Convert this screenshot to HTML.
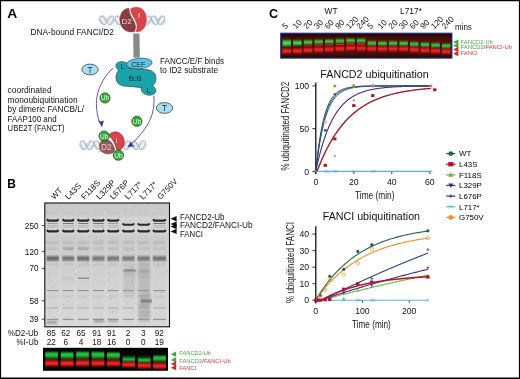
<!DOCTYPE html>
<html><head><meta charset="utf-8"><title>Figure</title>
<style>
html,body{margin:0;padding:0;background:#fff;}
body{width:520px;height:379px;overflow:hidden;font-family:"Liberation Sans",sans-serif;}
svg{display:block;will-change:transform;opacity:0.999;font-family:"Liberation Sans",sans-serif;}
text{font-family:"Liberation Sans",sans-serif;}
</style></head><body>
<svg width="520" height="379" viewBox="0 0 520 379">
<defs>
<filter id="b1" x="-20%" y="-100%" width="140%" height="300%"><feGaussianBlur stdDeviation="0.55 0.55"/></filter>
<filter id="b2" x="-20%" y="-100%" width="140%" height="300%"><feGaussianBlur stdDeviation="0.9 0.8"/></filter>
<filter id="b3" x="-20%" y="-100%" width="140%" height="300%"><feGaussianBlur stdDeviation="1.2 1.4"/></filter>
<filter id="bg" x="-20%" y="-100%" width="140%" height="300%"><feGaussianBlur stdDeviation="0.65 0.85"/></filter>
<filter id="bf" x="-20%" y="-100%" width="140%" height="300%"><feGaussianBlur stdDeviation="0.7 0.8"/></filter>
<clipPath id="cgB"><rect x="45" y="203" width="124.5" height="124"/></clipPath>
<clipPath id="cgF"><rect x="43" y="348" width="125" height="23"/></clipPath>
<clipPath id="cgC"><rect x="281" y="33.5" width="170.6" height="24.4"/></clipPath>
</defs>
<rect x="0" y="0" width="520" height="379" fill="#fff"/>

<text x="0" y="0" font-size="12.6" font-weight="bold" fill="#000" transform="translate(7.2 18) scale(1.1 1)">A</text>
<text x="7.3" y="187.6" font-size="12" font-weight="bold" fill="#000">B</text>
<text x="269" y="18" font-size="12.6" font-weight="bold" fill="#000">C</text>
<text x="30.5" y="35" font-size="8.6" fill="#111" text-anchor="start" textLength="83.5" lengthAdjust="spacingAndGlyphs">DNA-bound FANCI/D2</text>
<text x="160" y="63.5" font-size="8.6" fill="#111" text-anchor="start" textLength="64" lengthAdjust="spacingAndGlyphs">FANCC/E/F binds</text>
<text x="160" y="73" font-size="8.6" fill="#111" text-anchor="start" textLength="58" lengthAdjust="spacingAndGlyphs">to ID2 substrate</text>
<text x="7.6" y="92.8" font-size="8.6" fill="#111" text-anchor="start" textLength="44" lengthAdjust="spacingAndGlyphs">coordinated</text>
<text x="7.6" y="102.5" font-size="8.6" fill="#111" text-anchor="start" textLength="70" lengthAdjust="spacingAndGlyphs">monoubiquitination</text>
<text x="7.6" y="112.2" font-size="8.6" fill="#111" text-anchor="start" textLength="76.5" lengthAdjust="spacingAndGlyphs">by dimeric FANCB/L/</text>
<text x="7.6" y="121.7" font-size="8.6" fill="#111" text-anchor="start" textLength="49" lengthAdjust="spacingAndGlyphs">FAAP100 and</text>
<text x="7.6" y="131.3" font-size="8.6" fill="#111" text-anchor="start" textLength="57" lengthAdjust="spacingAndGlyphs">UBE2T (FANCT)</text>
<polyline points="99.08,20.30 99.41,20.91 99.75,21.50 100.09,22.08 100.42,22.62 100.76,23.11 101.10,23.55 101.44,23.93 101.78,24.24 102.11,24.47 102.45,24.63 102.79,24.70 103.12,24.68 103.46,24.58 103.80,24.40 104.14,24.14 104.48,23.81 104.81,23.41 105.15,22.95 105.49,22.44 105.83,21.89 106.16,21.31 106.50,20.71 106.84,20.10 107.18,19.49 107.51,18.90 107.85,18.34 108.19,17.81 108.53,17.34 108.86,16.91 109.20,16.56 109.54,16.27 109.88,16.07 110.21,15.94 110.55,15.90 110.89,15.94 111.23,16.07 111.56,16.27 111.90,16.56 112.24,16.91 112.58,17.34 112.91,17.81 113.25,18.34 113.59,18.90 113.93,19.49 114.26,20.10 114.60,20.71 114.94,21.31 115.28,21.89 115.61,22.44 115.95,22.95 116.29,23.41 116.62,23.81 116.96,24.14 117.30,24.40 117.64,24.58 117.98,24.68 118.31,24.70 118.65,24.63 118.99,24.47 119.33,24.24 119.66,23.93 120.00,23.55 120.34,23.11 120.68,22.62 121.01,22.08 121.35,21.50 121.69,20.91 122.03,20.30" fill="none" stroke="#9fb5da" stroke-width="0.9"/>
<polyline points="99.08,20.30 99.41,19.69 99.75,19.10 100.09,18.52 100.42,17.98 100.76,17.49 101.10,17.05 101.44,16.67 101.78,16.36 102.11,16.13 102.45,15.97 102.79,15.90 103.12,15.92 103.46,16.02 103.80,16.20 104.14,16.46 104.48,16.79 104.81,17.19 105.15,17.65 105.49,18.16 105.83,18.71 106.16,19.29 106.50,19.89 106.84,20.50 107.18,21.11 107.51,21.70 107.85,22.26 108.19,22.79 108.53,23.26 108.86,23.69 109.20,24.04 109.54,24.33 109.88,24.53 110.21,24.66 110.55,24.70 110.89,24.66 111.23,24.53 111.56,24.33 111.90,24.04 112.24,23.69 112.58,23.26 112.91,22.79 113.25,22.26 113.59,21.70 113.93,21.11 114.26,20.50 114.60,19.89 114.94,19.29 115.28,18.71 115.61,18.16 115.95,17.65 116.29,17.19 116.62,16.79 116.96,16.46 117.30,16.20 117.64,16.02 117.98,15.92 118.31,15.90 118.65,15.97 118.99,16.13 119.33,16.36 119.66,16.67 120.00,17.05 120.34,17.49 120.68,17.98 121.01,18.52 121.35,19.10 121.69,19.69 122.03,20.30" fill="none" stroke="#9fb5da" stroke-width="0.9"/>
<ellipse cx="102.90" cy="20.3" rx="2.2" ry="4.7" fill="#f4f1d6" stroke="#9fb5da" stroke-width="0.9" transform="rotate(-28 102.90 20.3)"/>
<ellipse cx="110.60" cy="20.3" rx="2.2" ry="4.7" fill="#f4f1d6" stroke="#9fb5da" stroke-width="0.9" transform="rotate(28 110.60 20.3)"/>
<ellipse cx="118.20" cy="20.3" rx="2.2" ry="4.7" fill="#f4f1d6" stroke="#9fb5da" stroke-width="0.9" transform="rotate(-28 118.20 20.3)"/>
<polyline points="144.10,20.30 144.43,20.96 144.77,21.60 145.10,22.21 145.43,22.78 145.77,23.29 146.10,23.74 146.43,24.11 146.77,24.40 147.10,24.59 147.43,24.69 147.77,24.69 148.10,24.59 148.43,24.40 148.77,24.11 149.10,23.74 149.43,23.29 149.77,22.78 150.10,22.21 150.43,21.60 150.77,20.96 151.10,20.30 151.43,19.64 151.77,19.00 152.10,18.39 152.43,17.82 152.77,17.31 153.10,16.86 153.43,16.49 153.77,16.20 154.10,16.01 154.43,15.91 154.77,15.91 155.10,16.01 155.43,16.20 155.77,16.49 156.10,16.86 156.43,17.31 156.77,17.82 157.10,18.39 157.43,19.00 157.77,19.64 158.10,20.30 158.43,20.96 158.77,21.60 159.10,22.21 159.43,22.78 159.77,23.29 160.10,23.74 160.43,24.11 160.77,24.40 161.10,24.59 161.43,24.69 161.77,24.69 162.10,24.59 162.43,24.40 162.77,24.11 163.10,23.74 163.43,23.29 163.77,22.78 164.10,22.21 164.43,21.60 164.77,20.96 165.10,20.30" fill="none" stroke="#9fb5da" stroke-width="0.9"/>
<polyline points="144.10,20.30 144.43,19.64 144.77,19.00 145.10,18.39 145.43,17.82 145.77,17.31 146.10,16.86 146.43,16.49 146.77,16.20 147.10,16.01 147.43,15.91 147.77,15.91 148.10,16.01 148.43,16.20 148.77,16.49 149.10,16.86 149.43,17.31 149.77,17.82 150.10,18.39 150.43,19.00 150.77,19.64 151.10,20.30 151.43,20.96 151.77,21.60 152.10,22.21 152.43,22.78 152.77,23.29 153.10,23.74 153.43,24.11 153.77,24.40 154.10,24.59 154.43,24.69 154.77,24.69 155.10,24.59 155.43,24.40 155.77,24.11 156.10,23.74 156.43,23.29 156.77,22.78 157.10,22.21 157.43,21.60 157.77,20.96 158.10,20.30 158.43,19.64 158.77,19.00 159.10,18.39 159.43,17.82 159.77,17.31 160.10,16.86 160.43,16.49 160.77,16.20 161.10,16.01 161.43,15.91 161.77,15.91 162.10,16.01 162.43,16.20 162.77,16.49 163.10,16.86 163.43,17.31 163.77,17.82 164.10,18.39 164.43,19.00 164.77,19.64 165.10,20.30" fill="none" stroke="#9fb5da" stroke-width="0.9"/>
<ellipse cx="147.60" cy="20.3" rx="2.2" ry="4.7" fill="#f4f1d6" stroke="#9fb5da" stroke-width="0.9" transform="rotate(28 147.60 20.3)"/>
<ellipse cx="154.60" cy="20.3" rx="2.2" ry="4.7" fill="#f4f1d6" stroke="#9fb5da" stroke-width="0.9" transform="rotate(-28 154.60 20.3)"/>
<ellipse cx="161.60" cy="20.3" rx="2.2" ry="4.7" fill="#f4f1d6" stroke="#9fb5da" stroke-width="0.9" transform="rotate(28 161.60 20.3)"/>
<path d="M129,8.2 C123.5,8.2 119.9,13.5 119.9,20 C119.9,27 125,32 131,32 C132.5,32 133.8,31.9 134.7,31.6 C135.8,29.5 136,27 135.3,24.5 C134.3,21 131.5,18 130.2,14.5 C129.5,12.5 129.2,10.3 129,8.2 Z" fill="#8b3c40" stroke="#6b2b2f" stroke-width="0.4"/>
<path d="M130.4,8.8 C132,7.6 134.6,7.1 137.3,7.2 C143,7.5 146.6,13 146.6,19.9 C146.6,27 142,31.7 137.3,31.8 C136.7,31.8 136.1,31.9 135.7,32 C136.8,29.5 137.3,26.5 136.6,23.5 C135.6,19.5 132.5,16.5 131.3,13 C130.8,11.5 130.5,10.2 130.4,8.8 Z" fill="#d9444a" stroke="#fff" stroke-width="1.7"/>
<path d="M130.4,8.8 C132,7.6 134.6,7.1 137.3,7.2 C143,7.5 146.6,13 146.6,19.9 C146.6,27 142,31.7 137.3,31.8 C136.7,31.8 136.1,31.9 135.7,32 C136.8,29.5 137.3,26.5 136.6,23.5 C135.6,19.5 132.5,16.5 131.3,13 C130.8,11.5 130.5,10.2 130.4,8.8 Z" fill="#d9444a" stroke="#b8343a" stroke-width="0.3"/>
<text x="126.6" y="24.1" font-size="8" fill="#ecd9d9" text-anchor="middle" >D2</text>
<text x="139" y="18.4" font-size="7.6" fill="#f6dada" text-anchor="middle" >I</text>
<path d="M133.3,33.6 L139.2,33.6 L139.8,57.6 L133.6,57.6 Z" fill="#8f8f8f"/>
<line x1="133.3" x2="139.8" y1="34.2" y2="34.2" stroke="#7a7a7a" stroke-width="0.35"/>
<line x1="133.3" x2="139.8" y1="35.2" y2="35.2" stroke="#7a7a7a" stroke-width="0.35"/>
<line x1="133.3" x2="139.8" y1="36.2" y2="36.2" stroke="#7a7a7a" stroke-width="0.35"/>
<line x1="133.3" x2="139.8" y1="37.2" y2="37.2" stroke="#7a7a7a" stroke-width="0.35"/>
<line x1="133.3" x2="139.8" y1="38.2" y2="38.2" stroke="#7a7a7a" stroke-width="0.35"/>
<line x1="133.3" x2="139.8" y1="39.2" y2="39.2" stroke="#7a7a7a" stroke-width="0.35"/>
<line x1="133.3" x2="139.8" y1="40.2" y2="40.2" stroke="#7a7a7a" stroke-width="0.35"/>
<line x1="133.3" x2="139.8" y1="41.2" y2="41.2" stroke="#7a7a7a" stroke-width="0.35"/>
<line x1="133.3" x2="139.8" y1="42.2" y2="42.2" stroke="#7a7a7a" stroke-width="0.35"/>
<line x1="133.3" x2="139.8" y1="43.2" y2="43.2" stroke="#7a7a7a" stroke-width="0.35"/>
<line x1="133.3" x2="139.8" y1="44.2" y2="44.2" stroke="#7a7a7a" stroke-width="0.35"/>
<line x1="133.3" x2="139.8" y1="45.2" y2="45.2" stroke="#7a7a7a" stroke-width="0.35"/>
<line x1="133.3" x2="139.8" y1="46.2" y2="46.2" stroke="#7a7a7a" stroke-width="0.35"/>
<line x1="133.3" x2="139.8" y1="47.2" y2="47.2" stroke="#7a7a7a" stroke-width="0.35"/>
<line x1="133.3" x2="139.8" y1="48.2" y2="48.2" stroke="#7a7a7a" stroke-width="0.35"/>
<line x1="133.3" x2="139.8" y1="49.2" y2="49.2" stroke="#7a7a7a" stroke-width="0.35"/>
<line x1="133.3" x2="139.8" y1="50.2" y2="50.2" stroke="#7a7a7a" stroke-width="0.35"/>
<line x1="133.3" x2="139.8" y1="51.2" y2="51.2" stroke="#7a7a7a" stroke-width="0.35"/>
<line x1="133.3" x2="139.8" y1="52.2" y2="52.2" stroke="#7a7a7a" stroke-width="0.35"/>
<line x1="133.3" x2="139.8" y1="53.2" y2="53.2" stroke="#7a7a7a" stroke-width="0.35"/>
<line x1="133.3" x2="139.8" y1="54.2" y2="54.2" stroke="#7a7a7a" stroke-width="0.35"/>
<line x1="133.3" x2="139.8" y1="55.2" y2="55.2" stroke="#7a7a7a" stroke-width="0.35"/>
<line x1="133.3" x2="139.8" y1="56.2" y2="56.2" stroke="#7a7a7a" stroke-width="0.35"/>
<line x1="133.3" x2="139.8" y1="57.2" y2="57.2" stroke="#7a7a7a" stroke-width="0.35"/>
<ellipse cx="148.5" cy="89.9" rx="7.5" ry="5.2" fill="#18a4aa" stroke="#3a3030" stroke-width="0.6" transform="rotate(12 148.5 89.9)"/>
<ellipse cx="122.8" cy="66.7" rx="7.1" ry="4.9" fill="#18a4aa" stroke="#3a3030" stroke-width="0.6" transform="rotate(15 122.8 66.7)"/>
<path d="M116,78.2 C115.8,71.5 120.5,68.4 128,68.5 L146,69 C152.4,69.3 156.2,72.6 156,78.4 C155.8,84.2 151,87.5 144,87.3 L126,86.7 C119.6,86.4 116.1,83.6 116,78.2 Z" fill="#18a4aa" stroke="#3a3030" stroke-width="0.6" transform="rotate(3 136 78)"/>
<ellipse cx="148.5" cy="89.9" rx="7.1" ry="4.8" fill="#18a4aa" transform="rotate(12 148.5 89.9)"/>
<ellipse cx="122.8" cy="66.7" rx="6.7" ry="4.5" fill="#18a4aa" transform="rotate(15 122.8 66.7)"/>
<ellipse cx="139.3" cy="63.5" rx="12.9" ry="5.3" fill="#5cc5e3" stroke="#3a3030" stroke-width="0.6" transform="rotate(-5 139.3 63.5)"/>
<text x="131.2" y="66.8" font-size="8" fill="#0d2636" text-anchor="start" textLength="14.3" lengthAdjust="spacingAndGlyphs">CEF</text>
<text x="122.6" y="69.2" font-size="7.6" fill="#0d2636" text-anchor="middle" >L</text>
<text x="135.2" y="80.6" font-size="8" fill="#0d2636" text-anchor="middle" >B:B</text>
<text x="148.5" y="92.6" font-size="7.6" fill="#0d2636" text-anchor="middle" >L</text>
<ellipse cx="90" cy="69.5" rx="8.2" ry="5.4" fill="#a9dcee" stroke="#2a3a44" stroke-width="0.75"/>
<text x="90" y="72.5" font-size="8.4" fill="#15323f" text-anchor="middle" >T</text>
<ellipse cx="164.5" cy="108" rx="8.2" ry="5.4" fill="#a9dcee" stroke="#2a3a44" stroke-width="0.75"/>
<text x="164.5" y="111" font-size="8.4" fill="#15323f" text-anchor="middle" >T</text>
<circle cx="105" cy="98" r="5.1" fill="#35a637" stroke="#174d19" stroke-width="0.7"/>
<text x="105" y="100.4" font-size="6.6" fill="#eaffea" text-anchor="middle" >Ub</text>
<circle cx="136.9" cy="121.3" r="5.1" fill="#35a637" stroke="#174d19" stroke-width="0.7"/>
<text x="136.9" y="123.7" font-size="6.6" fill="#eaffea" text-anchor="middle" >Ub</text>
<polyline points="79.60,145.20 79.94,145.85 80.28,146.48 80.61,147.08 80.95,147.64 81.29,148.15 81.62,148.60 81.96,148.97 82.30,149.27 82.64,149.47 82.98,149.58 83.31,149.59 83.65,149.52 83.99,149.34 84.33,149.08 84.66,148.73 85.00,148.31 85.34,147.82 85.67,147.27 86.01,146.68 86.35,146.06 86.69,145.42 87.03,144.77 87.36,144.13 87.70,143.52 88.04,142.94 88.38,142.41 88.71,141.94 89.05,141.54 89.39,141.22 89.72,140.99 90.06,140.85 90.40,140.80 90.74,140.85 91.08,140.99 91.41,141.22 91.75,141.54 92.09,141.94 92.42,142.41 92.76,142.94 93.10,143.52 93.44,144.13 93.77,144.77 94.11,145.42 94.45,146.06 94.79,146.68 95.12,147.27 95.46,147.82 95.80,148.31 96.14,148.73 96.47,149.08 96.81,149.34 97.15,149.52 97.49,149.59 97.82,149.58 98.16,149.47 98.50,149.27 98.84,148.97 99.17,148.60 99.51,148.15 99.85,147.64 100.19,147.08 100.52,146.48 100.86,145.85 101.20,145.20" fill="none" stroke="#9fb5da" stroke-width="0.9"/>
<polyline points="79.60,145.20 79.94,144.55 80.28,143.92 80.61,143.32 80.95,142.76 81.29,142.25 81.62,141.80 81.96,141.43 82.30,141.13 82.64,140.93 82.98,140.82 83.31,140.81 83.65,140.88 83.99,141.06 84.33,141.32 84.66,141.67 85.00,142.09 85.34,142.58 85.67,143.13 86.01,143.72 86.35,144.34 86.69,144.98 87.03,145.63 87.36,146.27 87.70,146.88 88.04,147.46 88.38,147.99 88.71,148.46 89.05,148.86 89.39,149.18 89.72,149.41 90.06,149.55 90.40,149.60 90.74,149.55 91.08,149.41 91.41,149.18 91.75,148.86 92.09,148.46 92.42,147.99 92.76,147.46 93.10,146.88 93.44,146.27 93.77,145.63 94.11,144.98 94.45,144.34 94.79,143.72 95.12,143.13 95.46,142.58 95.80,142.09 96.14,141.67 96.47,141.32 96.81,141.06 97.15,140.88 97.49,140.81 97.82,140.82 98.16,140.93 98.50,141.13 98.84,141.43 99.17,141.80 99.51,142.25 99.85,142.76 100.19,143.32 100.52,143.92 100.86,144.55 101.20,145.20" fill="none" stroke="#9fb5da" stroke-width="0.9"/>
<ellipse cx="83.20" cy="145.2" rx="2.2" ry="4.7" fill="#f4f1d6" stroke="#9fb5da" stroke-width="0.9" transform="rotate(-28 83.20 145.2)"/>
<ellipse cx="90.60" cy="145.2" rx="2.2" ry="4.7" fill="#f4f1d6" stroke="#9fb5da" stroke-width="0.9" transform="rotate(28 90.60 145.2)"/>
<ellipse cx="97.60" cy="145.2" rx="2.2" ry="4.7" fill="#f4f1d6" stroke="#9fb5da" stroke-width="0.9" transform="rotate(-28 97.60 145.2)"/>
<polyline points="123.40,145.20 123.74,145.81 124.07,146.40 124.41,146.98 124.74,147.52 125.08,148.01 125.41,148.45 125.75,148.83 126.08,149.14 126.42,149.37 126.75,149.53 127.09,149.60 127.42,149.58 127.76,149.48 128.09,149.30 128.43,149.04 128.76,148.71 129.10,148.31 129.44,147.85 129.77,147.34 130.11,146.79 130.44,146.21 130.78,145.61 131.11,145.00 131.45,144.39 131.78,143.80 132.12,143.24 132.45,142.71 132.79,142.24 133.12,141.81 133.46,141.46 133.79,141.17 134.13,140.97 134.46,140.84 134.80,140.80 135.14,140.84 135.47,140.97 135.81,141.17 136.14,141.46 136.48,141.81 136.81,142.24 137.15,142.71 137.48,143.24 137.82,143.80 138.15,144.39 138.49,145.00 138.82,145.61 139.16,146.21 139.49,146.79 139.83,147.34 140.16,147.85 140.50,148.31 140.84,148.71 141.17,149.04 141.51,149.30 141.84,149.48 142.18,149.58 142.51,149.60 142.85,149.53 143.18,149.37 143.52,149.14 143.85,148.83 144.19,148.45 144.52,148.01 144.86,147.52 145.19,146.98 145.53,146.40 145.86,145.81 146.20,145.20" fill="none" stroke="#9fb5da" stroke-width="0.9"/>
<polyline points="123.40,145.20 123.74,144.59 124.07,144.00 124.41,143.42 124.74,142.88 125.08,142.39 125.41,141.95 125.75,141.57 126.08,141.26 126.42,141.03 126.75,140.87 127.09,140.80 127.42,140.82 127.76,140.92 128.09,141.10 128.43,141.36 128.76,141.69 129.10,142.09 129.44,142.55 129.77,143.06 130.11,143.61 130.44,144.19 130.78,144.79 131.11,145.40 131.45,146.01 131.78,146.60 132.12,147.16 132.45,147.69 132.79,148.16 133.12,148.59 133.46,148.94 133.79,149.23 134.13,149.43 134.46,149.56 134.80,149.60 135.14,149.56 135.47,149.43 135.81,149.23 136.14,148.94 136.48,148.59 136.81,148.16 137.15,147.69 137.48,147.16 137.82,146.60 138.15,146.01 138.49,145.40 138.82,144.79 139.16,144.19 139.49,143.61 139.83,143.06 140.16,142.55 140.50,142.09 140.84,141.69 141.17,141.36 141.51,141.10 141.84,140.92 142.18,140.82 142.51,140.80 142.85,140.87 143.18,141.03 143.52,141.26 143.85,141.57 144.19,141.95 144.52,142.39 144.86,142.88 145.19,143.42 145.53,144.00 145.86,144.59 146.20,145.20" fill="none" stroke="#9fb5da" stroke-width="0.9"/>
<ellipse cx="127.20" cy="145.2" rx="2.2" ry="4.7" fill="#f4f1d6" stroke="#9fb5da" stroke-width="0.9" transform="rotate(28 127.20 145.2)"/>
<ellipse cx="135.00" cy="145.2" rx="2.2" ry="4.7" fill="#f4f1d6" stroke="#9fb5da" stroke-width="0.9" transform="rotate(-28 135.00 145.2)"/>
<ellipse cx="142.40" cy="145.2" rx="2.2" ry="4.7" fill="#f4f1d6" stroke="#9fb5da" stroke-width="0.9" transform="rotate(28 142.40 145.2)"/>
<path d="M113,68.2 C106,74 98.5,86 96.9,97.3 C95.7,106 96.8,115 99.8,122.5" fill="none" stroke="#3a34a0" stroke-width="0.8"/>
<path d="M102,127.2 L97.8,120 L100.7,121.6 L103.9,120.6 Z" fill="#3a34a0"/>
<path d="M153.9,95.8 C154.6,104 153.2,113 150.2,119.5 C147,126.5 141,135 131.5,144.2" fill="none" stroke="#3a34a0" stroke-width="0.8"/>
<path d="M127.4,147 L131,141.2 L131.9,144.2 L135,146.2 Z" fill="#3a34a0"/>
<path d="M98.4,151.8 L105,149.4" stroke="#d9444a" stroke-width="0.6" fill="none"/>
<path d="M108.9,135.4 C110,132 116,130.6 120,133.4 C124.6,136.6 125.6,143.4 122.4,147.8 C121,149.6 119.6,150.4 118.4,150.6 L116.7,149.6 C115.5,144 112.8,139 108.9,135.4 Z" fill="#d9444a" stroke="#4a1a1d" stroke-width="0.55"/>
<path d="M99.5,146.5 C99.3,142.3 102.6,139.5 106.4,139.8 C110.6,140.2 113.8,144.6 114.6,150.2 C113.8,153.2 109,154.8 104.6,153.2 C101.2,152 99.7,149.6 99.5,146.5 Z" fill="#8f3f43" fill-opacity="0.88" stroke="#4a1a1d" stroke-width="0.5"/>
<text x="106.4" y="150.4" font-size="8.4" fill="#e2c9c9" text-anchor="middle" >D2</text>
<text x="116.5" y="143.4" font-size="7.6" fill="#f6dada" text-anchor="middle" >I</text>
<circle cx="104.1" cy="136.1" r="5.2" fill="#35a637" stroke="#174d19" stroke-width="0.7"/>
<text x="104.1" y="138.5" font-size="6.6" fill="#eaffea" text-anchor="middle" >Ub</text>
<circle cx="118.4" cy="155.1" r="5.2" fill="#35a637" stroke="#174d19" stroke-width="0.7"/>
<text x="118.4" y="157.5" font-size="6.6" fill="#eaffea" text-anchor="middle" >Ub</text>
<rect x="44.8" y="203" width="124.7" height="123.80000000000001" fill="#cfcfcf"/>
<g clip-path="url(#cgB)">
<linearGradient id="ggB" x1="0" y1="0" x2="0" y2="1"><stop offset="0" stop-color="#c9c9c9"/><stop offset="0.4" stop-color="#d1d1d1"/><stop offset="1" stop-color="#dcdcdc"/></linearGradient>
<rect x="44.8" y="203" width="124.7" height="123.80000000000001" fill="url(#ggB)"/>
<rect x="47.0" y="211" width="11.399999999999999" height="115.80000000000001" fill="#b4b4b4" opacity="0.12" filter="url(#b3)"/>
<rect x="45.5" y="216.5" width="14.399999999999999" height="18" fill="#e2e2e2" opacity="0.5" filter="url(#b3)"/>
<path d="M46.8,219.40 L48.4,220.66 L57.0,220.66 L58.6,219.40" fill="none" stroke="#2a2a2a" stroke-width="2.1" stroke-linejoin="round" opacity="1" filter="url(#b1)"/>
<path d="M47.4,223.30 L49.0,223.64 L56.4,223.64 L58.0,223.30" fill="none" stroke="#555" stroke-width="1.0" stroke-linejoin="round" opacity="0.5" filter="url(#b1)"/>
<rect x="47.1" y="225.15" width="11.2" height="0.7" fill="#777" opacity="0.5" filter="url(#b1)"/>
<rect x="47.1" y="226.85" width="11.2" height="0.7" fill="#777" opacity="0.45" filter="url(#b1)"/>
<path d="M46.8,230.10 L48.4,231.36 L57.0,231.36 L58.6,230.10" fill="none" stroke="#282828" stroke-width="2.2" stroke-linejoin="round" opacity="1" filter="url(#b1)"/>
<rect x="47.0" y="242.05" width="11.4" height="1.3" fill="#8e8e8e" opacity="0.6" filter="url(#b2)"/>
<rect x="47.0" y="247.95" width="11.4" height="1.3" fill="#6c6c6c" opacity="0.3" filter="url(#bf)"/>
<rect x="46.7" y="256.50" width="12.0" height="3.8" fill="#8c8c8c" opacity="0.7" filter="url(#b2)"/>
<rect x="46.7" y="256.40" width="12.0" height="1.2" fill="#4a4a4a" opacity="0.8" filter="url(#bf)"/>
<rect x="46.7" y="257.90" width="12.0" height="1.4" fill="#333" opacity="0.9" filter="url(#bf)"/>
<rect x="46.7" y="259.75" width="12.0" height="1.1" fill="#484848" opacity="0.75" filter="url(#bf)"/>
<rect x="47.0" y="264.00" width="11.4" height="1.2" fill="#a0a0a0" opacity="0.5" filter="url(#b2)"/>
<rect x="47.0" y="290.05" width="11.4" height="1.1" fill="#7c7c7c" opacity="0.75" filter="url(#b1)"/>
<rect x="47.0" y="296.00" width="11.4" height="1.0" fill="#a8a8a8" opacity="0.5" filter="url(#b2)"/>
<rect x="47.0" y="307.50" width="11.4" height="1.0" fill="#909090" opacity="0.6" filter="url(#b1)"/>
<rect x="47.0" y="318.75" width="11.4" height="1.3" fill="#808080" opacity="0.7" filter="url(#b1)"/>
<rect x="62.7" y="211" width="11.099999999999994" height="115.80000000000001" fill="#b4b4b4" opacity="0.12" filter="url(#b3)"/>
<rect x="61.2" y="216.5" width="14.099999999999994" height="18" fill="#e2e2e2" opacity="0.5" filter="url(#b3)"/>
<path d="M62.5,219.40 L64.1,220.66 L72.4,220.66 L74.0,219.40" fill="none" stroke="#2a2a2a" stroke-width="2.1" stroke-linejoin="round" opacity="1" filter="url(#b1)"/>
<path d="M63.1,223.30 L64.7,223.64 L71.8,223.64 L73.4,223.30" fill="none" stroke="#555" stroke-width="1.0" stroke-linejoin="round" opacity="0.85" filter="url(#b1)"/>
<rect x="62.8" y="225.15" width="10.9" height="0.7" fill="#777" opacity="0.5" filter="url(#b1)"/>
<rect x="62.8" y="226.85" width="10.9" height="0.7" fill="#777" opacity="0.45" filter="url(#b1)"/>
<path d="M62.5,230.10 L64.1,231.36 L72.4,231.36 L74.0,230.10" fill="none" stroke="#282828" stroke-width="2.2" stroke-linejoin="round" opacity="1" filter="url(#b1)"/>
<rect x="62.7" y="242.05" width="11.1" height="1.3" fill="#8e8e8e" opacity="0.6" filter="url(#b2)"/>
<rect x="62.7" y="247.95" width="11.1" height="1.3" fill="#6c6c6c" opacity="0.9" filter="url(#bf)"/>
<rect x="62.4" y="256.50" width="11.7" height="3.8" fill="#8c8c8c" opacity="0.595" filter="url(#b2)"/>
<rect x="62.4" y="256.40" width="11.7" height="1.2" fill="#4a4a4a" opacity="0.68" filter="url(#bf)"/>
<rect x="62.4" y="257.90" width="11.7" height="1.4" fill="#333" opacity="0.765" filter="url(#bf)"/>
<rect x="62.4" y="259.75" width="11.7" height="1.1" fill="#484848" opacity="0.6375" filter="url(#bf)"/>
<rect x="62.7" y="264.00" width="11.1" height="1.2" fill="#a0a0a0" opacity="0.5" filter="url(#b2)"/>
<rect x="62.7" y="290.05" width="11.1" height="1.1" fill="#7c7c7c" opacity="0.75" filter="url(#b1)"/>
<rect x="62.7" y="296.00" width="11.1" height="1.0" fill="#a8a8a8" opacity="0.5" filter="url(#b2)"/>
<rect x="62.7" y="307.50" width="11.1" height="1.0" fill="#909090" opacity="0.6" filter="url(#b1)"/>
<rect x="62.7" y="318.75" width="11.1" height="1.3" fill="#808080" opacity="0.7" filter="url(#b1)"/>
<rect x="77.7" y="211" width="11.099999999999994" height="115.80000000000001" fill="#b4b4b4" opacity="0.12" filter="url(#b3)"/>
<rect x="76.2" y="216.5" width="14.099999999999994" height="18" fill="#e2e2e2" opacity="0.5" filter="url(#b3)"/>
<path d="M77.5,219.40 L79.1,220.66 L87.4,220.66 L89.0,219.40" fill="none" stroke="#2a2a2a" stroke-width="2.1" stroke-linejoin="round" opacity="1" filter="url(#b1)"/>
<path d="M78.1,223.30 L79.7,223.64 L86.8,223.64 L88.4,223.30" fill="none" stroke="#555" stroke-width="1.0" stroke-linejoin="round" opacity="0.85" filter="url(#b1)"/>
<rect x="77.8" y="225.15" width="10.9" height="0.7" fill="#777" opacity="0.5" filter="url(#b1)"/>
<rect x="77.8" y="226.85" width="10.9" height="0.7" fill="#777" opacity="0.45" filter="url(#b1)"/>
<path d="M77.5,230.10 L79.1,231.36 L87.4,231.36 L89.0,230.10" fill="none" stroke="#282828" stroke-width="2.2" stroke-linejoin="round" opacity="1" filter="url(#b1)"/>
<rect x="77.7" y="242.05" width="11.1" height="1.3" fill="#8e8e8e" opacity="0.6" filter="url(#b2)"/>
<rect x="77.7" y="247.95" width="11.1" height="1.3" fill="#6c6c6c" opacity="0.9" filter="url(#bf)"/>
<rect x="77.4" y="256.50" width="11.7" height="3.8" fill="#8c8c8c" opacity="0.6649999999999999" filter="url(#b2)"/>
<rect x="77.4" y="256.40" width="11.7" height="1.2" fill="#4a4a4a" opacity="0.76" filter="url(#bf)"/>
<rect x="77.4" y="257.90" width="11.7" height="1.4" fill="#333" opacity="0.855" filter="url(#bf)"/>
<rect x="77.4" y="259.75" width="11.7" height="1.1" fill="#484848" opacity="0.7124999999999999" filter="url(#bf)"/>
<rect x="77.7" y="264.00" width="11.1" height="1.2" fill="#a0a0a0" opacity="0.5" filter="url(#b2)"/>
<rect x="77.7" y="290.05" width="11.1" height="1.1" fill="#7c7c7c" opacity="0.75" filter="url(#b1)"/>
<rect x="77.7" y="296.00" width="11.1" height="1.0" fill="#a8a8a8" opacity="0.5" filter="url(#b2)"/>
<rect x="77.7" y="307.50" width="11.1" height="1.0" fill="#909090" opacity="0.6" filter="url(#b1)"/>
<rect x="77.7" y="318.75" width="11.1" height="1.3" fill="#808080" opacity="0.7" filter="url(#b1)"/>
<rect x="92.8" y="211" width="11.299999999999997" height="115.80000000000001" fill="#b4b4b4" opacity="0.12" filter="url(#b3)"/>
<rect x="91.3" y="216.5" width="14.299999999999997" height="18" fill="#e2e2e2" opacity="0.5" filter="url(#b3)"/>
<path d="M92.6,219.40 L94.2,220.66 L102.7,220.66 L104.3,219.40" fill="none" stroke="#2a2a2a" stroke-width="2.1" stroke-linejoin="round" opacity="1" filter="url(#b1)"/>
<path d="M93.2,223.30 L94.8,223.64 L102.1,223.64 L103.7,223.30" fill="none" stroke="#555" stroke-width="1.0" stroke-linejoin="round" opacity="0.85" filter="url(#b1)"/>
<rect x="92.9" y="225.15" width="11.1" height="0.7" fill="#777" opacity="0.5" filter="url(#b1)"/>
<rect x="92.9" y="226.85" width="11.1" height="0.7" fill="#777" opacity="0.45" filter="url(#b1)"/>
<path d="M92.6,230.10 L94.2,231.36 L102.7,231.36 L104.3,230.10" fill="none" stroke="#282828" stroke-width="2.2" stroke-linejoin="round" opacity="1" filter="url(#b1)"/>
<rect x="92.8" y="242.05" width="11.3" height="1.3" fill="#8e8e8e" opacity="0.6" filter="url(#b2)"/>
<rect x="92.8" y="247.95" width="11.3" height="1.3" fill="#6c6c6c" opacity="0.3" filter="url(#bf)"/>
<rect x="92.5" y="256.50" width="11.9" height="3.8" fill="#8c8c8c" opacity="0.5599999999999999" filter="url(#b2)"/>
<rect x="92.5" y="256.40" width="11.9" height="1.2" fill="#4a4a4a" opacity="0.6400000000000001" filter="url(#bf)"/>
<rect x="92.5" y="257.90" width="11.9" height="1.4" fill="#333" opacity="0.7200000000000001" filter="url(#bf)"/>
<rect x="92.5" y="259.75" width="11.9" height="1.1" fill="#484848" opacity="0.6000000000000001" filter="url(#bf)"/>
<rect x="92.8" y="264.00" width="11.3" height="1.2" fill="#a0a0a0" opacity="0.5" filter="url(#b2)"/>
<rect x="92.8" y="290.05" width="11.3" height="1.1" fill="#7c7c7c" opacity="0.75" filter="url(#b1)"/>
<rect x="92.8" y="296.00" width="11.3" height="1.0" fill="#a8a8a8" opacity="0.5" filter="url(#b2)"/>
<rect x="92.8" y="307.50" width="11.3" height="1.0" fill="#909090" opacity="0.6" filter="url(#b1)"/>
<rect x="92.8" y="318.75" width="11.3" height="1.3" fill="#808080" opacity="0.7" filter="url(#b1)"/>
<rect x="107.7" y="211" width="11.0" height="115.80000000000001" fill="#b4b4b4" opacity="0.12" filter="url(#b3)"/>
<rect x="106.2" y="216.5" width="14.0" height="18" fill="#e2e2e2" opacity="0.5" filter="url(#b3)"/>
<path d="M107.5,219.40 L109.1,220.66 L117.3,220.66 L118.9,219.40" fill="none" stroke="#2a2a2a" stroke-width="2.1" stroke-linejoin="round" opacity="1" filter="url(#b1)"/>
<path d="M108.1,223.30 L109.7,223.64 L116.7,223.64 L118.3,223.30" fill="none" stroke="#555" stroke-width="1.0" stroke-linejoin="round" opacity="0.5" filter="url(#b1)"/>
<rect x="107.8" y="225.15" width="10.8" height="0.7" fill="#777" opacity="0.5" filter="url(#b1)"/>
<rect x="107.8" y="226.85" width="10.8" height="0.7" fill="#777" opacity="0.45" filter="url(#b1)"/>
<path d="M107.5,230.10 L109.1,231.36 L117.3,231.36 L118.9,230.10" fill="none" stroke="#282828" stroke-width="2.2" stroke-linejoin="round" opacity="1" filter="url(#b1)"/>
<rect x="107.7" y="242.05" width="11.0" height="1.3" fill="#8e8e8e" opacity="0.6" filter="url(#b2)"/>
<rect x="107.7" y="247.95" width="11.0" height="1.3" fill="#6c6c6c" opacity="0.3" filter="url(#bf)"/>
<rect x="107.4" y="256.50" width="11.6" height="3.8" fill="#8c8c8c" opacity="0.5599999999999999" filter="url(#b2)"/>
<rect x="107.4" y="256.40" width="11.6" height="1.2" fill="#4a4a4a" opacity="0.6400000000000001" filter="url(#bf)"/>
<rect x="107.4" y="257.90" width="11.6" height="1.4" fill="#333" opacity="0.7200000000000001" filter="url(#bf)"/>
<rect x="107.4" y="259.75" width="11.6" height="1.1" fill="#484848" opacity="0.6000000000000001" filter="url(#bf)"/>
<rect x="107.7" y="264.00" width="11.0" height="1.2" fill="#a0a0a0" opacity="0.5" filter="url(#b2)"/>
<rect x="107.7" y="290.05" width="11.0" height="1.1" fill="#7c7c7c" opacity="0.75" filter="url(#b1)"/>
<rect x="107.7" y="296.00" width="11.0" height="1.0" fill="#a8a8a8" opacity="0.5" filter="url(#b2)"/>
<rect x="107.7" y="307.50" width="11.0" height="1.0" fill="#909090" opacity="0.6" filter="url(#b1)"/>
<rect x="107.7" y="318.75" width="11.0" height="1.3" fill="#808080" opacity="0.7" filter="url(#b1)"/>
<rect x="122.7" y="211" width="11.399999999999991" height="115.80000000000001" fill="#b4b4b4" opacity="0.12" filter="url(#b3)"/>
<rect x="121.2" y="216.5" width="14.399999999999991" height="18" fill="#e2e2e2" opacity="0.5" filter="url(#b3)"/>
<path d="M122.5,223.50 L124.1,224.76 L132.7,224.76 L134.3,223.50" fill="none" stroke="#2a2a2a" stroke-width="2.1" stroke-linejoin="round" opacity="1" filter="url(#b1)"/>
<rect x="122.8" y="220.00" width="11.2" height="0.8" fill="#aaa" opacity="0.5" filter="url(#b2)"/>
<path d="M122.5,230.10 L124.1,231.36 L132.7,231.36 L134.3,230.10" fill="none" stroke="#282828" stroke-width="2.2" stroke-linejoin="round" opacity="1" filter="url(#b1)"/>
<rect x="122.7" y="242.05" width="11.4" height="1.3" fill="#8e8e8e" opacity="0.6" filter="url(#b2)"/>
<rect x="122.7" y="247.95" width="11.4" height="1.3" fill="#6c6c6c" opacity="0.3" filter="url(#bf)"/>
<rect x="122.4" y="256.50" width="12.0" height="3.8" fill="#8c8c8c" opacity="0.5249999999999999" filter="url(#b2)"/>
<rect x="122.4" y="256.40" width="12.0" height="1.2" fill="#4a4a4a" opacity="0.6000000000000001" filter="url(#bf)"/>
<rect x="122.4" y="257.90" width="12.0" height="1.4" fill="#333" opacity="0.675" filter="url(#bf)"/>
<rect x="122.4" y="259.75" width="12.0" height="1.1" fill="#484848" opacity="0.5625" filter="url(#bf)"/>
<rect x="122.7" y="264.00" width="11.4" height="1.2" fill="#a0a0a0" opacity="0.5" filter="url(#b2)"/>
<rect x="122.7" y="290.05" width="11.4" height="1.1" fill="#7c7c7c" opacity="0.75" filter="url(#b1)"/>
<rect x="122.7" y="296.00" width="11.4" height="1.0" fill="#a8a8a8" opacity="0.5" filter="url(#b2)"/>
<rect x="122.7" y="307.50" width="11.4" height="1.0" fill="#909090" opacity="0.6" filter="url(#b1)"/>
<rect x="122.7" y="318.75" width="11.4" height="1.3" fill="#808080" opacity="0.7" filter="url(#b1)"/>
<rect x="137.9" y="211" width="11.599999999999994" height="115.80000000000001" fill="#b4b4b4" opacity="0.12" filter="url(#b3)"/>
<rect x="136.4" y="216.5" width="14.599999999999994" height="18" fill="#e2e2e2" opacity="0.5" filter="url(#b3)"/>
<path d="M137.7,223.50 L139.3,224.76 L148.1,224.76 L149.7,223.50" fill="none" stroke="#2a2a2a" stroke-width="2.1" stroke-linejoin="round" opacity="1" filter="url(#b1)"/>
<rect x="138.0" y="220.00" width="11.4" height="0.8" fill="#aaa" opacity="0.5" filter="url(#b2)"/>
<path d="M137.7,230.10 L139.3,231.36 L148.1,231.36 L149.7,230.10" fill="none" stroke="#282828" stroke-width="2.2" stroke-linejoin="round" opacity="1" filter="url(#b1)"/>
<rect x="137.9" y="242.05" width="11.6" height="1.3" fill="#8e8e8e" opacity="0.6" filter="url(#b2)"/>
<rect x="137.9" y="247.95" width="11.6" height="1.3" fill="#6c6c6c" opacity="0.3" filter="url(#bf)"/>
<rect x="137.6" y="256.50" width="12.2" height="3.8" fill="#8c8c8c" opacity="0.5599999999999999" filter="url(#b2)"/>
<rect x="137.6" y="256.40" width="12.2" height="1.2" fill="#4a4a4a" opacity="0.6400000000000001" filter="url(#bf)"/>
<rect x="137.6" y="257.90" width="12.2" height="1.4" fill="#333" opacity="0.7200000000000001" filter="url(#bf)"/>
<rect x="137.6" y="259.75" width="12.2" height="1.1" fill="#484848" opacity="0.6000000000000001" filter="url(#bf)"/>
<rect x="137.9" y="264.00" width="11.6" height="1.2" fill="#a0a0a0" opacity="0.5" filter="url(#b2)"/>
<rect x="137.9" y="290.05" width="11.6" height="1.1" fill="#7c7c7c" opacity="0.75" filter="url(#b1)"/>
<rect x="137.9" y="296.00" width="11.6" height="1.0" fill="#a8a8a8" opacity="0.5" filter="url(#b2)"/>
<rect x="137.9" y="307.50" width="11.6" height="1.0" fill="#909090" opacity="0.6" filter="url(#b1)"/>
<rect x="137.9" y="318.75" width="11.6" height="1.3" fill="#808080" opacity="0.7" filter="url(#b1)"/>
<rect x="153.1" y="211" width="12.599999999999994" height="115.80000000000001" fill="#b4b4b4" opacity="0.12" filter="url(#b3)"/>
<rect x="151.6" y="216.5" width="15.599999999999994" height="18" fill="#e2e2e2" opacity="0.5" filter="url(#b3)"/>
<path d="M152.9,219.40 L154.5,220.66 L164.3,220.66 L165.9,219.40" fill="none" stroke="#2a2a2a" stroke-width="2.1" stroke-linejoin="round" opacity="1" filter="url(#b1)"/>
<path d="M153.5,223.30 L155.1,223.64 L163.7,223.64 L165.3,223.30" fill="none" stroke="#555" stroke-width="1.0" stroke-linejoin="round" opacity="0.85" filter="url(#b1)"/>
<rect x="153.2" y="225.15" width="12.4" height="0.7" fill="#777" opacity="0.5" filter="url(#b1)"/>
<rect x="153.2" y="226.85" width="12.4" height="0.7" fill="#777" opacity="0.45" filter="url(#b1)"/>
<path d="M152.9,230.10 L154.5,231.36 L164.3,231.36 L165.9,230.10" fill="none" stroke="#282828" stroke-width="2.2" stroke-linejoin="round" opacity="1" filter="url(#b1)"/>
<rect x="153.1" y="242.05" width="12.6" height="1.3" fill="#8e8e8e" opacity="0.6" filter="url(#b2)"/>
<rect x="153.1" y="247.95" width="12.6" height="1.3" fill="#6c6c6c" opacity="0.3" filter="url(#bf)"/>
<rect x="152.8" y="256.50" width="13.2" height="3.8" fill="#8c8c8c" opacity="0.595" filter="url(#b2)"/>
<rect x="152.8" y="256.40" width="13.2" height="1.2" fill="#4a4a4a" opacity="0.68" filter="url(#bf)"/>
<rect x="152.8" y="257.90" width="13.2" height="1.4" fill="#333" opacity="0.765" filter="url(#bf)"/>
<rect x="152.8" y="259.75" width="13.2" height="1.1" fill="#484848" opacity="0.6375" filter="url(#bf)"/>
<rect x="153.1" y="264.00" width="12.6" height="1.2" fill="#a0a0a0" opacity="0.5" filter="url(#b2)"/>
<rect x="153.1" y="290.05" width="12.6" height="1.1" fill="#7c7c7c" opacity="0.75" filter="url(#b1)"/>
<rect x="153.1" y="296.00" width="12.6" height="1.0" fill="#a8a8a8" opacity="0.5" filter="url(#b2)"/>
<rect x="153.1" y="307.50" width="12.6" height="1.0" fill="#909090" opacity="0.6" filter="url(#b1)"/>
<rect x="153.1" y="318.75" width="12.6" height="1.3" fill="#808080" opacity="0.7" filter="url(#b1)"/>
<rect x="138.5" y="262" width="11.5" height="60" fill="#9a9a9a" opacity="0.4" filter="url(#b3)"/>
<rect x="123.5" y="266" width="12" height="30" fill="#aaa" opacity="0.35" filter="url(#b3)"/>
<path d="M123.7,271.10 L125.3,270.29 L133.7,270.29 L135.3,271.10" fill="none" stroke="#707070" stroke-width="2.6" stroke-linejoin="round" opacity="0.9" filter="url(#b2)"/>
<rect x="123.4" y="272.00" width="12.2" height="3.0" fill="#a8a8a8" opacity="0.6" filter="url(#b3)"/>
<rect x="138.5" y="270.30" width="11.5" height="2.0" fill="#909090" opacity="0.8" filter="url(#b2)"/>
<rect x="138.5" y="275.80" width="11.5" height="1.4" fill="#9a9a9a" opacity="0.7" filter="url(#b2)"/>
<rect x="78.0" y="277.65" width="11.0" height="1.1" fill="#686868" opacity="0.85" filter="url(#b1)"/>
<rect x="63.0" y="278.10" width="11.0" height="1.0" fill="#9c9c9c" opacity="0.6" filter="url(#b2)"/>
<rect x="140.6" y="299.90" width="11.2" height="2.2" fill="#5c5c5c" opacity="1" filter="url(#bf)"/>
<rect x="139.0" y="295.40" width="11.5" height="1.2" fill="#8a8a8a" opacity="0.8" filter="url(#b2)"/>
<rect x="139.0" y="304.90" width="11.5" height="1.2" fill="#8e8e8e" opacity="0.8" filter="url(#b2)"/>
<rect x="139.0" y="311.40" width="11.5" height="1.2" fill="#8a8a8a" opacity="0.7" filter="url(#b2)"/>
<rect x="139.0" y="315.00" width="11.5" height="1.0" fill="#8a8a8a" opacity="0.6" filter="url(#b2)"/>
<rect x="46.5" y="321.30" width="10.5" height="2.0" fill="#777" opacity="0.8" filter="url(#b2)"/>
<rect x="94.0" y="320.00" width="10.0" height="2.0" fill="#7a7a7a" opacity="0.8" filter="url(#b2)"/>
<rect x="108.0" y="319.90" width="10.0" height="1.8" fill="#808080" opacity="0.7" filter="url(#b2)"/>
<circle cx="85.5" cy="222.4" r="0.25" fill="#3a3a3a" opacity="0.28"/>
<circle cx="111.6" cy="248.5" r="0.25" fill="#3a3a3a" opacity="0.66"/>
<circle cx="72.1" cy="214.5" r="0.35" fill="#3a3a3a" opacity="0.28"/>
<circle cx="56.9" cy="255.7" r="0.45" fill="#3a3a3a" opacity="0.31"/>
<circle cx="73.2" cy="280.4" r="0.25" fill="#3a3a3a" opacity="0.51"/>
<circle cx="94.5" cy="322.9" r="0.25" fill="#3a3a3a" opacity="0.50"/>
<circle cx="62.1" cy="255.1" r="0.45" fill="#3a3a3a" opacity="0.30"/>
<circle cx="83.7" cy="303.4" r="0.3" fill="#3a3a3a" opacity="0.30"/>
<circle cx="115.9" cy="226.9" r="0.25" fill="#3a3a3a" opacity="0.50"/>
<circle cx="53.5" cy="211.3" r="0.3" fill="#3a3a3a" opacity="0.47"/>
<circle cx="111.0" cy="298.7" r="0.35" fill="#3a3a3a" opacity="0.51"/>
<circle cx="101.4" cy="240.5" r="0.3" fill="#3a3a3a" opacity="0.56"/>
<circle cx="75.8" cy="274.0" r="0.45" fill="#3a3a3a" opacity="0.47"/>
<circle cx="87.9" cy="258.7" r="0.45" fill="#3a3a3a" opacity="0.69"/>
<circle cx="60.3" cy="254.9" r="0.3" fill="#3a3a3a" opacity="0.32"/>
<circle cx="105.8" cy="208.8" r="0.25" fill="#3a3a3a" opacity="0.59"/>
<circle cx="116.1" cy="310.6" r="0.3" fill="#3a3a3a" opacity="0.40"/>
<circle cx="88.8" cy="264.5" r="0.35" fill="#3a3a3a" opacity="0.28"/>
<circle cx="57.3" cy="236.9" r="0.25" fill="#3a3a3a" opacity="0.28"/>
<circle cx="131.9" cy="282.8" r="0.35" fill="#3a3a3a" opacity="0.38"/>
<circle cx="93.1" cy="285.4" r="0.25" fill="#3a3a3a" opacity="0.67"/>
<circle cx="89.4" cy="278.4" r="0.35" fill="#3a3a3a" opacity="0.28"/>
<circle cx="140.1" cy="219.8" r="0.3" fill="#3a3a3a" opacity="0.43"/>
<circle cx="158.3" cy="264.5" r="0.3" fill="#3a3a3a" opacity="0.45"/>
<circle cx="113.2" cy="311.6" r="0.35" fill="#3a3a3a" opacity="0.64"/>
<circle cx="80.0" cy="254.6" r="0.3" fill="#3a3a3a" opacity="0.56"/>
<circle cx="92.5" cy="232.1" r="0.25" fill="#3a3a3a" opacity="0.33"/>
<circle cx="74.3" cy="232.4" r="0.35" fill="#3a3a3a" opacity="0.62"/>
<circle cx="68.2" cy="238.3" r="0.3" fill="#3a3a3a" opacity="0.44"/>
<circle cx="91.1" cy="273.0" r="0.3" fill="#3a3a3a" opacity="0.56"/>
<circle cx="109.1" cy="279.2" r="0.25" fill="#3a3a3a" opacity="0.46"/>
<circle cx="152.7" cy="319.9" r="0.45" fill="#3a3a3a" opacity="0.43"/>
<circle cx="94.8" cy="216.6" r="0.35" fill="#3a3a3a" opacity="0.28"/>
<circle cx="54.1" cy="229.4" r="0.3" fill="#3a3a3a" opacity="0.30"/>
<circle cx="119.5" cy="216.5" r="0.45" fill="#3a3a3a" opacity="0.32"/>
<circle cx="58.2" cy="248.3" r="0.25" fill="#3a3a3a" opacity="0.28"/>
<circle cx="71.3" cy="249.8" r="0.3" fill="#3a3a3a" opacity="0.68"/>
<circle cx="119.7" cy="261.8" r="0.25" fill="#3a3a3a" opacity="0.63"/>
<circle cx="167.7" cy="260.8" r="0.35" fill="#3a3a3a" opacity="0.39"/>
<circle cx="63.5" cy="295.3" r="0.3" fill="#3a3a3a" opacity="0.47"/>
<circle cx="130.7" cy="266.9" r="0.3" fill="#3a3a3a" opacity="0.68"/>
<circle cx="110.6" cy="221.9" r="0.45" fill="#3a3a3a" opacity="0.66"/>
<circle cx="138.8" cy="240.3" r="0.25" fill="#3a3a3a" opacity="0.56"/>
<circle cx="77.8" cy="248.7" r="0.3" fill="#3a3a3a" opacity="0.41"/>
<circle cx="73.1" cy="270.0" r="0.45" fill="#3a3a3a" opacity="0.40"/>
<circle cx="73.2" cy="302.8" r="0.3" fill="#3a3a3a" opacity="0.61"/>
<circle cx="146.2" cy="294.1" r="0.3" fill="#3a3a3a" opacity="0.34"/>
<circle cx="106.3" cy="293.0" r="0.25" fill="#3a3a3a" opacity="0.61"/>
<circle cx="103.7" cy="227.6" r="0.45" fill="#3a3a3a" opacity="0.68"/>
<circle cx="100.7" cy="318.1" r="0.3" fill="#3a3a3a" opacity="0.68"/>
<circle cx="90.5" cy="230.9" r="0.3" fill="#3a3a3a" opacity="0.46"/>
<circle cx="87.2" cy="262.8" r="0.45" fill="#3a3a3a" opacity="0.63"/>
<circle cx="104.6" cy="283.5" r="0.25" fill="#3a3a3a" opacity="0.63"/>
<circle cx="60.5" cy="251.3" r="0.3" fill="#3a3a3a" opacity="0.47"/>
<circle cx="67.7" cy="300.1" r="0.3" fill="#3a3a3a" opacity="0.29"/>
<circle cx="161.9" cy="291.9" r="0.35" fill="#3a3a3a" opacity="0.43"/>
<circle cx="162.0" cy="292.3" r="0.3" fill="#3a3a3a" opacity="0.70"/>
<circle cx="49.2" cy="276.0" r="0.35" fill="#3a3a3a" opacity="0.61"/>
<circle cx="63.7" cy="304.7" r="0.35" fill="#3a3a3a" opacity="0.55"/>
<circle cx="88.8" cy="270.8" r="0.3" fill="#3a3a3a" opacity="0.26"/>
<circle cx="143.9" cy="292.5" r="0.25" fill="#3a3a3a" opacity="0.49"/>
<circle cx="160.4" cy="256.8" r="0.3" fill="#3a3a3a" opacity="0.62"/>
<circle cx="71.7" cy="234.7" r="0.3" fill="#3a3a3a" opacity="0.48"/>
<circle cx="139.5" cy="243.7" r="0.45" fill="#3a3a3a" opacity="0.44"/>
<circle cx="61.9" cy="314.8" r="0.3" fill="#3a3a3a" opacity="0.65"/>
<circle cx="127.1" cy="303.3" r="0.45" fill="#3a3a3a" opacity="0.44"/>
<circle cx="158.4" cy="265.1" r="0.45" fill="#3a3a3a" opacity="0.32"/>
<circle cx="108.4" cy="310.3" r="0.3" fill="#3a3a3a" opacity="0.52"/>
<circle cx="141.0" cy="222.2" r="0.3" fill="#3a3a3a" opacity="0.46"/>
<circle cx="134.8" cy="271.8" r="0.3" fill="#3a3a3a" opacity="0.56"/>
<circle cx="110.9" cy="262.8" r="0.25" fill="#3a3a3a" opacity="0.65"/>
<circle cx="52.8" cy="227.3" r="0.25" fill="#3a3a3a" opacity="0.60"/>
<circle cx="108.1" cy="272.4" r="0.25" fill="#3a3a3a" opacity="0.45"/>
<circle cx="121.0" cy="265.6" r="0.45" fill="#3a3a3a" opacity="0.34"/>
<circle cx="79.8" cy="265.9" r="0.35" fill="#3a3a3a" opacity="0.48"/>
<circle cx="76.2" cy="267.7" r="0.3" fill="#3a3a3a" opacity="0.67"/>
<circle cx="155.3" cy="228.7" r="0.35" fill="#3a3a3a" opacity="0.31"/>
<circle cx="60.7" cy="257.8" r="0.25" fill="#3a3a3a" opacity="0.55"/>
<circle cx="98.4" cy="229.9" r="0.3" fill="#3a3a3a" opacity="0.60"/>
<circle cx="155.9" cy="222.8" r="0.3" fill="#3a3a3a" opacity="0.31"/>
<circle cx="154.1" cy="321.8" r="0.3" fill="#3a3a3a" opacity="0.59"/>
<circle cx="57.3" cy="311.8" r="0.3" fill="#3a3a3a" opacity="0.70"/>
<circle cx="147.9" cy="223.7" r="0.35" fill="#3a3a3a" opacity="0.70"/>
<circle cx="95.3" cy="255.3" r="0.3" fill="#3a3a3a" opacity="0.39"/>
<circle cx="134.4" cy="206.4" r="0.45" fill="#3a3a3a" opacity="0.46"/>
<circle cx="132.1" cy="250.8" r="0.45" fill="#3a3a3a" opacity="0.53"/>
<circle cx="108.7" cy="211.8" r="0.3" fill="#3a3a3a" opacity="0.69"/>
<circle cx="58.7" cy="236.3" r="0.25" fill="#3a3a3a" opacity="0.66"/>
<circle cx="68.1" cy="296.1" r="0.35" fill="#3a3a3a" opacity="0.63"/>
<circle cx="128.7" cy="319.2" r="0.35" fill="#3a3a3a" opacity="0.32"/>
<circle cx="158.6" cy="273.5" r="0.3" fill="#3a3a3a" opacity="0.29"/>
<circle cx="52.9" cy="287.8" r="0.35" fill="#3a3a3a" opacity="0.65"/>
<circle cx="78.8" cy="206.1" r="0.25" fill="#3a3a3a" opacity="0.61"/>
<circle cx="56.1" cy="308.3" r="0.25" fill="#3a3a3a" opacity="0.37"/>
<circle cx="60.7" cy="205.4" r="0.45" fill="#3a3a3a" opacity="0.44"/>
<circle cx="158.1" cy="279.7" r="0.25" fill="#3a3a3a" opacity="0.49"/>
<circle cx="75.1" cy="217.3" r="0.3" fill="#3a3a3a" opacity="0.37"/>
<circle cx="68.0" cy="317.5" r="0.3" fill="#3a3a3a" opacity="0.49"/>
<circle cx="71.1" cy="258.3" r="0.3" fill="#3a3a3a" opacity="0.37"/>
<circle cx="144.4" cy="325.1" r="0.25" fill="#3a3a3a" opacity="0.26"/>
<circle cx="135.7" cy="271.1" r="0.3" fill="#3a3a3a" opacity="0.48"/>
<circle cx="75.9" cy="258.5" r="0.35" fill="#3a3a3a" opacity="0.55"/>
<circle cx="112.8" cy="312.2" r="0.45" fill="#3a3a3a" opacity="0.39"/>
<circle cx="72.2" cy="232.0" r="0.3" fill="#3a3a3a" opacity="0.62"/>
<circle cx="132.5" cy="281.5" r="0.35" fill="#3a3a3a" opacity="0.70"/>
<circle cx="166.3" cy="305.9" r="0.25" fill="#3a3a3a" opacity="0.28"/>
<circle cx="136.7" cy="235.1" r="0.3" fill="#3a3a3a" opacity="0.27"/>
<circle cx="127.4" cy="250.4" r="0.45" fill="#3a3a3a" opacity="0.55"/>
<circle cx="80.4" cy="233.5" r="0.3" fill="#3a3a3a" opacity="0.27"/>
<circle cx="68.5" cy="236.8" r="0.25" fill="#3a3a3a" opacity="0.37"/>
<circle cx="163.8" cy="322.5" r="0.45" fill="#3a3a3a" opacity="0.40"/>
<circle cx="50.0" cy="311.5" r="0.3" fill="#3a3a3a" opacity="0.41"/>
<circle cx="45.9" cy="250.5" r="0.35" fill="#3a3a3a" opacity="0.38"/>
<circle cx="126.3" cy="234.2" r="0.25" fill="#3a3a3a" opacity="0.29"/>
<circle cx="146.1" cy="221.5" r="0.45" fill="#3a3a3a" opacity="0.27"/>
<circle cx="48.6" cy="241.1" r="0.3" fill="#3a3a3a" opacity="0.29"/>
<circle cx="163.3" cy="307.9" r="0.3" fill="#3a3a3a" opacity="0.55"/>
<circle cx="133.7" cy="311.1" r="0.35" fill="#3a3a3a" opacity="0.59"/>
<circle cx="134.2" cy="264.2" r="0.3" fill="#3a3a3a" opacity="0.58"/>
<circle cx="124.7" cy="209.3" r="0.45" fill="#3a3a3a" opacity="0.53"/>
<circle cx="135.8" cy="302.9" r="0.3" fill="#3a3a3a" opacity="0.66"/>
<circle cx="138.2" cy="273.2" r="0.25" fill="#3a3a3a" opacity="0.62"/>
<circle cx="117.5" cy="312.7" r="0.3" fill="#3a3a3a" opacity="0.29"/>
<circle cx="50.9" cy="281.6" r="0.25" fill="#3a3a3a" opacity="0.42"/>
<circle cx="101.2" cy="210.2" r="0.25" fill="#3a3a3a" opacity="0.53"/>
<circle cx="129.3" cy="263.6" r="0.25" fill="#3a3a3a" opacity="0.46"/>
<circle cx="54.4" cy="317.6" r="0.45" fill="#3a3a3a" opacity="0.29"/>
<circle cx="110.3" cy="294.8" r="0.35" fill="#3a3a3a" opacity="0.36"/>
<circle cx="54.9" cy="236.3" r="0.3" fill="#3a3a3a" opacity="0.35"/>
<circle cx="125.5" cy="260.1" r="0.35" fill="#3a3a3a" opacity="0.28"/>
<circle cx="157.5" cy="239.0" r="0.25" fill="#3a3a3a" opacity="0.53"/>
<circle cx="124.7" cy="213.4" r="0.3" fill="#3a3a3a" opacity="0.40"/>
<circle cx="125.7" cy="288.4" r="0.45" fill="#3a3a3a" opacity="0.51"/>
<circle cx="47.3" cy="211.4" r="0.3" fill="#3a3a3a" opacity="0.69"/>
<circle cx="58.0" cy="230.5" r="0.35" fill="#3a3a3a" opacity="0.38"/>
<circle cx="109.2" cy="260.6" r="0.35" fill="#3a3a3a" opacity="0.60"/>
<circle cx="167.7" cy="270.9" r="0.3" fill="#3a3a3a" opacity="0.69"/>
<circle cx="160.7" cy="206.1" r="0.35" fill="#3a3a3a" opacity="0.28"/>
<circle cx="108.0" cy="325.1" r="0.3" fill="#3a3a3a" opacity="0.42"/>
<circle cx="158.3" cy="317.3" r="0.25" fill="#3a3a3a" opacity="0.51"/>
<circle cx="63.2" cy="267.8" r="0.3" fill="#3a3a3a" opacity="0.31"/>
<circle cx="146.4" cy="266.0" r="0.25" fill="#3a3a3a" opacity="0.57"/>
<circle cx="74.2" cy="313.3" r="0.35" fill="#3a3a3a" opacity="0.43"/>
<circle cx="65.3" cy="319.7" r="0.35" fill="#3a3a3a" opacity="0.43"/>
<circle cx="135.0" cy="254.7" r="0.35" fill="#3a3a3a" opacity="0.39"/>
<circle cx="148.9" cy="204.2" r="0.3" fill="#3a3a3a" opacity="0.63"/>
<circle cx="60.5" cy="316.8" r="0.25" fill="#3a3a3a" opacity="0.66"/>
<circle cx="81.4" cy="249.3" r="0.35" fill="#3a3a3a" opacity="0.43"/>
<circle cx="152.5" cy="213.3" r="0.35" fill="#3a3a3a" opacity="0.59"/>
<circle cx="150.6" cy="238.2" r="0.25" fill="#3a3a3a" opacity="0.63"/>
</g>
<rect x="44.8" y="203" width="124.7" height="123.80000000000001" fill="none" stroke="#111" stroke-width="1.1"/>
<line x1="41.8" x2="44.8" y1="225.6" y2="225.6" stroke="#111" stroke-width="0.8"/>
<text x="38.5" y="228.5" font-size="8.2" fill="#111" text-anchor="end" >250</text>
<line x1="41.8" x2="44.8" y1="251.6" y2="251.6" stroke="#111" stroke-width="0.8"/>
<text x="38.5" y="254.5" font-size="8.2" fill="#111" text-anchor="end" >120</text>
<line x1="41.8" x2="44.8" y1="268.4" y2="268.4" stroke="#111" stroke-width="0.8"/>
<text x="38.5" y="271.29999999999995" font-size="8.2" fill="#111" text-anchor="end" >70</text>
<line x1="41.8" x2="44.8" y1="300.8" y2="300.8" stroke="#111" stroke-width="0.8"/>
<text x="38.5" y="303.7" font-size="8.2" fill="#111" text-anchor="end" >58</text>
<line x1="41.8" x2="44.8" y1="319.2" y2="319.2" stroke="#111" stroke-width="0.8"/>
<text x="38.5" y="322.09999999999997" font-size="8.2" fill="#111" text-anchor="end" >39</text>
<text x="54.2" y="200" font-size="8.1" fill="#111" transform="rotate(-46 54.2 200)">WT</text>
<text x="68.6" y="200" font-size="8.1" fill="#111" transform="rotate(-46 68.6 200)">L43S</text>
<text x="84.6" y="200" font-size="8.1" fill="#111" transform="rotate(-46 84.6 200)">F118S</text>
<text x="99.6" y="200" font-size="8.1" fill="#111" transform="rotate(-46 99.6 200)">L329P</text>
<text x="113.2" y="200" font-size="8.1" fill="#111" transform="rotate(-46 113.2 200)">L676P</text>
<text x="128" y="200" font-size="8.1" fill="#111" transform="rotate(-46 128 200)">L717*</text>
<text x="143" y="200" font-size="8.1" fill="#111" transform="rotate(-46 143 200)">L717*</text>
<text x="160.4" y="200" font-size="8.1" fill="#111" transform="rotate(-46 160.4 200)">G750V</text>
<path d="M170.5,218.8 L176.6,216.10000000000002 L176.6,221.5 Z" fill="#111"/>
<path d="M170.5,224.1 L176.6,221.4 L176.6,226.79999999999998 Z" fill="#111"/>
<path d="M170.5,226.6 L176.6,223.9 L176.6,229.29999999999998 Z" fill="#111"/>
<path d="M170.5,231.4 L176.6,228.70000000000002 L176.6,234.1 Z" fill="#111"/>
<text x="180" y="219.9" font-size="8.6" fill="#111" text-anchor="start" textLength="44.5" lengthAdjust="spacingAndGlyphs">FANCD2-Ub</text>
<text x="180" y="228.2" font-size="8.6" fill="#111" text-anchor="start" textLength="72.5" lengthAdjust="spacingAndGlyphs">FANCD2/FANCI-Ub</text>
<text x="180" y="237.3" font-size="8.6" fill="#111" text-anchor="start" textLength="23" lengthAdjust="spacingAndGlyphs">FANCI</text>
<text x="7.8" y="336" font-size="8.2" fill="#111" text-anchor="start" textLength="30.5" lengthAdjust="spacingAndGlyphs">%D2-Ub</text>
<text x="16.5" y="344.8" font-size="8.2" fill="#111" text-anchor="start" textLength="21.8" lengthAdjust="spacingAndGlyphs">%I-Ub</text>
<text x="51.2" y="336" font-size="8.2" fill="#111" text-anchor="middle" >85</text>
<text x="51.2" y="344.8" font-size="8.2" fill="#111" text-anchor="middle" >22</text>
<text x="65.8" y="336" font-size="8.2" fill="#111" text-anchor="middle" >62</text>
<text x="65.8" y="344.8" font-size="8.2" fill="#111" text-anchor="middle" >6</text>
<text x="81" y="336" font-size="8.2" fill="#111" text-anchor="middle" >65</text>
<text x="81" y="344.8" font-size="8.2" fill="#111" text-anchor="middle" >4</text>
<text x="96.8" y="336" font-size="8.2" fill="#111" text-anchor="middle" >91</text>
<text x="96.8" y="344.8" font-size="8.2" fill="#111" text-anchor="middle" >18</text>
<text x="111.6" y="336" font-size="8.2" fill="#111" text-anchor="middle" >91</text>
<text x="111.6" y="344.8" font-size="8.2" fill="#111" text-anchor="middle" >16</text>
<text x="128" y="336" font-size="8.2" fill="#111" text-anchor="middle" >2</text>
<text x="128" y="344.8" font-size="8.2" fill="#111" text-anchor="middle" >0</text>
<text x="143.4" y="336" font-size="8.2" fill="#111" text-anchor="middle" >3</text>
<text x="143.4" y="344.8" font-size="8.2" fill="#111" text-anchor="middle" >0</text>
<text x="159.2" y="336" font-size="8.2" fill="#111" text-anchor="middle" >92</text>
<text x="159.2" y="344.8" font-size="8.2" fill="#111" text-anchor="middle" >19</text>
<rect x="43" y="347.8" width="125" height="23.0" fill="#050505"/>
<g clip-path="url(#cgF)">
<rect x="45.4" y="352.5" width="12.600000000000001" height="6.0" fill="#118a28" filter="url(#bg)"/>
<rect x="45.4" y="352.7" width="12.600000000000001" height="3.48" fill="#25cc42" filter="url(#bg)"/>
<rect x="45.699999999999996" y="358.4" width="12.000000000000002" height="1.3" fill="#8a3012" opacity="0.9" filter="url(#bg)"/>
<rect x="45.199999999999996" y="360.8" width="13.000000000000002" height="4.9" fill="#ff2020" filter="url(#bg)"/>
<rect x="60.82" y="352.8" width="12.600000000000001" height="6.0" fill="#118a28" filter="url(#bg)"/>
<rect x="60.82" y="353.0" width="12.600000000000001" height="3.48" fill="#25cc42" filter="url(#bg)"/>
<rect x="61.12" y="358.7" width="12.000000000000002" height="1.3" fill="#8a3012" opacity="0.9" filter="url(#bg)"/>
<rect x="60.62" y="361.0" width="13.000000000000002" height="4.9" fill="#ff2020" filter="url(#bg)"/>
<rect x="76.24" y="352.3" width="12.599999999999994" height="6.0" fill="#118a28" filter="url(#bg)"/>
<rect x="76.24" y="352.5" width="12.599999999999994" height="3.48" fill="#25cc42" filter="url(#bg)"/>
<rect x="76.53999999999999" y="358.2" width="11.999999999999995" height="1.3" fill="#8a3012" opacity="0.9" filter="url(#bg)"/>
<rect x="76.03999999999999" y="360.7" width="12.999999999999995" height="4.9" fill="#ff2020" filter="url(#bg)"/>
<rect x="91.66" y="352.5" width="12.599999999999994" height="6.0" fill="#118a28" filter="url(#bg)"/>
<rect x="91.66" y="352.7" width="12.599999999999994" height="3.48" fill="#25cc42" filter="url(#bg)"/>
<rect x="91.96" y="358.4" width="11.999999999999995" height="1.3" fill="#8a3012" opacity="0.9" filter="url(#bg)"/>
<rect x="91.46" y="360.8" width="12.999999999999995" height="4.9" fill="#ff2020" filter="url(#bg)"/>
<rect x="107.08" y="353.0" width="12.599999999999994" height="5.8" fill="#118a28" filter="url(#bg)"/>
<rect x="107.08" y="353.2" width="12.599999999999994" height="3.36" fill="#25cc42" filter="url(#bg)"/>
<rect x="107.38" y="358.7" width="11.999999999999995" height="1.3" fill="#8a3012" opacity="0.9" filter="url(#bg)"/>
<rect x="106.88" y="361.1" width="12.999999999999995" height="4.6" fill="#ff2020" filter="url(#bg)"/>
<rect x="122.5" y="357.4" width="12.599999999999994" height="3.8" fill="#1fc63c" filter="url(#bg)"/>
<rect x="122.9" y="355.59999999999997" width="11.799999999999994" height="1.2" fill="#0d5c1c" opacity="0.6" filter="url(#bg)"/>
<rect x="122.3" y="362.3" width="12.999999999999995" height="4.6" fill="#ff2020" filter="url(#bg)"/>
<rect x="137.92" y="358.1" width="12.599999999999994" height="4.0" fill="#1fc63c" filter="url(#bg)"/>
<rect x="138.32" y="356.3" width="11.799999999999994" height="1.2" fill="#0d5c1c" opacity="0.6" filter="url(#bg)"/>
<rect x="137.72" y="363.2" width="12.999999999999995" height="4.6" fill="#ff2020" filter="url(#bg)"/>
<rect x="153.34" y="356.2" width="12.599999999999994" height="5.2" fill="#118a28" filter="url(#bg)"/>
<rect x="153.34" y="356.4" width="12.599999999999994" height="3.02" fill="#25cc42" filter="url(#bg)"/>
<rect x="153.64000000000001" y="361.29999999999995" width="11.999999999999995" height="1.3" fill="#8a3012" opacity="0.9" filter="url(#bg)"/>
<rect x="153.14000000000001" y="363.6" width="12.999999999999995" height="4.7" fill="#ff2020" filter="url(#bg)"/>
</g>
<path d="M170.8,354.2 L176.2,351.59999999999997 L176.2,356.8 Z" fill="#3aa63a"/>
<path d="M170.8,359.9 L176.2,357.29999999999995 L176.2,362.5 Z" fill="#3aa63a"/>
<path d="M170.8,363.8 L176.2,361.2 L176.2,366.40000000000003 Z" fill="#d02a2a"/>
<path d="M170.8,367.7 L176.2,365.09999999999997 L176.2,370.3 Z" fill="#d02a2a"/>
<text x="179.2" y="354.7" font-size="5.9" fill="#4fa54f" text-anchor="start" textLength="32" lengthAdjust="spacingAndGlyphs">FANCD2-Ub</text>
<text x="179.2" y="362.8" font-size="5.9" textLength="51.5" lengthAdjust="spacingAndGlyphs"><tspan fill="#4fa54f">FANCD2</tspan><tspan fill="#444">/</tspan><tspan fill="#d03a3a">FANCI-Ub</tspan></text>
<text x="179.2" y="370.4" font-size="5.9" fill="#d03a3a" text-anchor="start" textLength="17" lengthAdjust="spacingAndGlyphs">FANCI</text>
<text x="331" y="14" font-size="8.4" fill="#111" text-anchor="middle" >WT</text>
<text x="411" y="14" font-size="8.4" fill="#111" text-anchor="middle" >L717*</text>
<text x="455" y="29.6" font-size="8.2" fill="#111" text-anchor="start" textLength="16.8" lengthAdjust="spacingAndGlyphs">mins</text>
<rect x="280.6" y="33.1" width="171.39999999999998" height="25.1" fill="#2c0906"/>
<g clip-path="url(#cgC)">
<rect x="280.6" y="37" width="171.39999999999998" height="18" fill="#5a130c" opacity="0.7" filter="url(#b3)"/>
<rect x="282.5" y="40.4" width="8.5" height="5.2" fill="#35e24c" filter="url(#bf)"/>
<rect x="282.3" y="49.1" width="8.9" height="3.9" fill="#ff2222" filter="url(#bf)"/>
<rect x="293.13" y="40.775" width="8.5" height="4.2" fill="#35e24c" filter="url(#bf)"/>
<rect x="292.93" y="48.95" width="8.9" height="3.9" fill="#ff2222" filter="url(#bf)"/>
<rect x="303.76" y="40.55" width="8.5" height="3.4" fill="#35e24c" filter="url(#bf)"/>
<rect x="304.06" y="45.15" width="7.9" height="1.2" fill="#ff3326" opacity="0.53" filter="url(#b1)"/>
<rect x="303.56" y="48.2" width="8.9" height="3.9" fill="#ff2222" filter="url(#bf)"/>
<rect x="314.39" y="40.275" width="8.5" height="3.2" fill="#35e24c" filter="url(#bf)"/>
<rect x="314.69" y="44.775" width="7.9" height="1.2" fill="#ff3326" opacity="0.62" filter="url(#b1)"/>
<rect x="314.19" y="47.75" width="8.9" height="3.9" fill="#ff2222" filter="url(#bf)"/>
<rect x="325.02" y="40.0" width="8.5" height="3.0" fill="#35e24c" filter="url(#bf)"/>
<rect x="325.32" y="44.4" width="7.9" height="1.2" fill="#ff3326" opacity="0.71" filter="url(#b1)"/>
<rect x="324.82" y="47.300000000000004" width="8.9" height="3.9" fill="#ff2222" filter="url(#bf)"/>
<rect x="335.65" y="39.5" width="8.5" height="3.0" fill="#35e24c" filter="url(#bf)"/>
<rect x="335.95" y="43.9" width="7.9" height="1.2" fill="#ff3326" opacity="0.83" filter="url(#b1)"/>
<rect x="335.45" y="46.7" width="8.9" height="3.9" fill="#ff2222" filter="url(#bf)"/>
<rect x="346.28" y="39.0" width="8.5" height="3.0" fill="#35e24c" filter="url(#bf)"/>
<rect x="346.58" y="43.4" width="7.9" height="1.2" fill="#ff3326" opacity="0.95" filter="url(#b1)"/>
<rect x="346.08" y="46.1" width="8.9" height="3.9" fill="#ff2222" filter="url(#bf)"/>
<rect x="356.91" y="39.125" width="8.5" height="3.0" fill="#35e24c" filter="url(#bf)"/>
<rect x="357.21000000000004" y="43.525" width="7.9" height="1.2" fill="#ff3326" opacity="0.92" filter="url(#b1)"/>
<rect x="356.71000000000004" y="46.25" width="8.9" height="3.9" fill="#ff2222" filter="url(#bf)"/>
<rect x="367.54" y="41.6" width="8.5" height="3.2" fill="#35e24c" filter="url(#bf)"/>
<rect x="367.34000000000003" y="46.800000000000004" width="8.9" height="3.8" fill="#ff2222" filter="url(#bf)"/>
<rect x="378.17" y="41.800000000000004" width="8.5" height="3.2" fill="#35e24c" filter="url(#bf)"/>
<rect x="377.97" y="47.02" width="8.9" height="3.8" fill="#ff2222" filter="url(#bf)"/>
<rect x="388.8" y="41.7" width="8.5" height="3.2" fill="#35e24c" filter="url(#bf)"/>
<rect x="388.6" y="46.910000000000004" width="8.9" height="3.8" fill="#ff2222" filter="url(#bf)"/>
<rect x="399.43" y="41.800000000000004" width="8.5" height="3.2" fill="#35e24c" filter="url(#bf)"/>
<rect x="399.23" y="47.02" width="8.9" height="3.8" fill="#ff2222" filter="url(#bf)"/>
<rect x="410.06" y="42.5" width="8.5" height="3.2" fill="#35e24c" filter="url(#bf)"/>
<rect x="409.86" y="47.790000000000006" width="8.9" height="3.8" fill="#ff2222" filter="url(#bf)"/>
<rect x="420.69" y="43.0" width="8.5" height="3.2" fill="#35e24c" filter="url(#bf)"/>
<rect x="420.49" y="48.34" width="8.9" height="3.8" fill="#ff2222" filter="url(#bf)"/>
<rect x="431.32000000000005" y="43.6" width="8.5" height="3.2" fill="#35e24c" filter="url(#bf)"/>
<rect x="431.12000000000006" y="49.00000000000001" width="8.9" height="3.8" fill="#ff2222" filter="url(#bf)"/>
<rect x="441.95000000000005" y="44.2" width="8.5" height="3.2" fill="#35e24c" filter="url(#bf)"/>
<rect x="441.75000000000006" y="49.660000000000004" width="8.9" height="3.8" fill="#ff2222" filter="url(#bf)"/>
</g>
<rect x="280.6" y="33.1" width="171.39999999999998" height="25.1" fill="none" stroke="#1f3fa8" stroke-width="0.9"/>
<text x="285.4" y="29.4" font-size="8.2" fill="#111" transform="rotate(-45 285.4 29.4)">5</text>
<text x="296.0" y="29.4" font-size="8.2" fill="#111" transform="rotate(-45 296.0 29.4)">10</text>
<text x="306.7" y="29.4" font-size="8.2" fill="#111" transform="rotate(-45 306.7 29.4)">20</text>
<text x="317.3" y="29.4" font-size="8.2" fill="#111" transform="rotate(-45 317.3 29.4)">30</text>
<text x="327.9" y="29.4" font-size="8.2" fill="#111" transform="rotate(-45 327.9 29.4)">60</text>
<text x="338.5" y="29.4" font-size="8.2" fill="#111" transform="rotate(-45 338.5 29.4)">90</text>
<text x="349.2" y="29.4" font-size="8.2" fill="#111" transform="rotate(-45 349.2 29.4)">120</text>
<text x="359.8" y="29.4" font-size="8.2" fill="#111" transform="rotate(-45 359.8 29.4)">240</text>
<text x="370.4" y="29.4" font-size="8.2" fill="#111" transform="rotate(-45 370.4 29.4)">5</text>
<text x="381.1" y="29.4" font-size="8.2" fill="#111" transform="rotate(-45 381.1 29.4)">10</text>
<text x="391.7" y="29.4" font-size="8.2" fill="#111" transform="rotate(-45 391.7 29.4)">20</text>
<text x="402.3" y="29.4" font-size="8.2" fill="#111" transform="rotate(-45 402.3 29.4)">30</text>
<text x="413.0" y="29.4" font-size="8.2" fill="#111" transform="rotate(-45 413.0 29.4)">60</text>
<text x="423.6" y="29.4" font-size="8.2" fill="#111" transform="rotate(-45 423.6 29.4)">90</text>
<text x="434.2" y="29.4" font-size="8.2" fill="#111" transform="rotate(-45 434.2 29.4)">120</text>
<text x="444.9" y="29.4" font-size="8.2" fill="#111" transform="rotate(-45 444.9 29.4)">240</text>
<path d="M453.2,42 L458.4,39.4 L458.4,44.6 Z" fill="#3aa63a"/>
<path d="M453.2,45.6 L458.4,43.0 L458.4,48.2 Z" fill="#3aa63a"/>
<path d="M453.2,49.4 L458.4,46.8 L458.4,52.0 Z" fill="#d02a2a"/>
<path d="M453.2,53.6 L458.4,51.0 L458.4,56.2 Z" fill="#d02a2a"/>
<text x="460.6" y="43.7" font-size="5.9" fill="#4fa54f" text-anchor="start" textLength="32.3" lengthAdjust="spacingAndGlyphs">FANCD2-Ub</text>
<text x="460.6" y="48.7" font-size="5.9" textLength="51.5" lengthAdjust="spacingAndGlyphs"><tspan fill="#4fa54f">FANCD2</tspan><tspan fill="#444">/</tspan><tspan fill="#d03a3a">FANCI-Ub</tspan></text>
<text x="460.6" y="55.2" font-size="5.9" fill="#d03a3a" text-anchor="start" textLength="17" lengthAdjust="spacingAndGlyphs">FANCI</text>
<text x="320.3" y="77.6" font-size="11" fill="#111" text-anchor="start" textLength="108.4" lengthAdjust="spacingAndGlyphs">FANCD2 ubiquitination</text>
<path d="M315.8,82.6 V174" stroke="#111" stroke-width="1.3" fill="none"/>
<line x1="312.4" x2="315.8" y1="171.40" y2="171.40" stroke="#111" stroke-width="0.85"/>
<text x="309.2" y="174.5" font-size="8.7" fill="#111" text-anchor="end" >0</text>
<line x1="312.4" x2="315.8" y1="128.65" y2="128.65" stroke="#111" stroke-width="0.85"/>
<text x="309.2" y="131.75" font-size="8.7" fill="#111" text-anchor="end" >50</text>
<line x1="312.4" x2="315.8" y1="85.90" y2="85.90" stroke="#111" stroke-width="0.85"/>
<text x="309.2" y="89.0" font-size="8.7" fill="#111" text-anchor="end" >100</text>
<line x1="315.80" x2="315.80" y1="171.4" y2="174" stroke="#111" stroke-width="0.8"/>
<text x="315.8" y="185" font-size="8.7" fill="#111" text-anchor="middle" >0</text>
<line x1="353.80" x2="353.80" y1="171.4" y2="174" stroke="#111" stroke-width="0.8"/>
<text x="353.8" y="185" font-size="8.7" fill="#111" text-anchor="middle" >20</text>
<line x1="391.80" x2="391.80" y1="171.4" y2="174" stroke="#111" stroke-width="0.8"/>
<text x="391.8" y="185" font-size="8.7" fill="#111" text-anchor="middle" >40</text>
<line x1="429.80" x2="429.80" y1="171.4" y2="174" stroke="#111" stroke-width="0.8"/>
<text x="429.8" y="185" font-size="8.7" fill="#111" text-anchor="middle" >60</text>
<text x="355" y="199" font-size="10.4" fill="#1a1a1a" textLength="39.5" lengthAdjust="spacingAndGlyphs">Time (min)</text>
<text x="0" y="0" font-size="10.6" fill="#1a1a1a" textLength="88.7" lengthAdjust="spacingAndGlyphs" transform="translate(289.3 170.5) rotate(-90)">% ubiquitinated FANCD2</text>
<line x1="316.3" x2="430.94" y1="171.4" y2="171.4" stroke="#62aee8" stroke-width="1.15"/>
<polyline points="317.23,171.40 318.17,168.92 319.12,166.51 320.07,164.18 321.02,161.91 321.96,159.70 322.91,157.56 323.86,155.48 324.81,153.47 325.75,151.51 326.70,149.60 327.65,147.76 328.60,145.96 329.54,144.22 330.49,142.53 331.44,140.89 332.39,139.29 333.33,137.75 334.28,136.24 335.23,134.78 336.18,133.36 337.13,131.99 338.07,130.65 339.02,129.35 339.97,128.09 340.92,126.87 341.86,125.68 342.81,124.53 343.76,123.41 344.71,122.32 345.65,121.27 346.60,120.24 347.55,119.24 348.50,118.28 349.44,117.34 350.39,116.43 351.34,115.54 352.29,114.68 353.23,113.85 354.18,113.04 355.13,112.25 356.08,111.49 357.03,110.74 357.97,110.02 358.92,109.32 359.87,108.64 360.82,107.99 361.76,107.34 362.71,106.72 363.66,106.12 364.61,105.53 365.55,104.96 366.50,104.41 367.45,103.87 368.40,103.35 369.34,102.85 370.29,102.36 371.24,101.88 372.19,101.41 373.13,100.96 374.08,100.53 375.03,100.10 375.98,99.69 376.93,99.29 377.87,98.90 378.82,98.53 379.77,98.16 380.72,97.80 381.66,97.46 382.61,97.12 383.56,96.80 384.51,96.48 385.45,96.18 386.40,95.88 387.35,95.59 388.30,95.31 389.24,95.04 390.19,94.77 391.14,94.51 392.09,94.26 393.04,94.02 393.98,93.79 394.93,93.56 395.88,93.33 396.83,93.12 397.77,92.91 398.72,92.71 399.67,92.51 400.62,92.32 401.56,92.13 402.51,91.95 403.46,91.78 404.41,91.60 405.35,91.44 406.30,91.28 407.25,91.12 408.20,90.97 409.14,90.82 410.09,90.68 411.04,90.54 411.99,90.41 412.94,90.28 413.88,90.15 414.83,90.03 415.78,89.91 416.73,89.79 417.67,89.68 418.62,89.57 419.57,89.46 420.52,89.36 421.46,89.26 422.41,89.16 423.36,89.07 424.31,88.98 425.25,88.89 426.20,88.80 427.15,88.72 428.10,88.63 429.04,88.55 429.99,88.48 430.94,88.40" fill="none" stroke="#66b93a" stroke-width="1.1" stroke-linejoin="round"/>
<polyline points="316.94,171.40 317.89,168.91 318.84,166.50 319.79,164.16 320.74,161.88 321.69,159.67 322.64,157.53 323.59,155.45 324.54,153.43 325.49,151.46 326.44,149.56 327.39,147.71 328.34,145.91 329.29,144.17 330.24,142.47 331.19,140.83 332.14,139.23 333.09,137.68 334.04,136.18 334.99,134.71 335.94,133.29 336.89,131.92 337.84,130.58 338.79,129.28 339.74,128.02 340.69,126.80 341.64,125.61 342.59,124.45 343.54,123.33 344.49,122.24 345.44,121.19 346.39,120.16 347.34,119.17 348.29,118.20 349.24,117.26 350.19,116.35 351.14,115.46 352.09,114.60 353.04,113.77 353.99,112.96 354.94,112.17 355.89,111.41 356.84,110.67 357.79,109.95 358.74,109.25 359.69,108.57 360.64,107.91 361.59,107.27 362.54,106.65 363.49,106.05 364.44,105.46 365.39,104.89 366.34,104.34 367.29,103.80 368.24,103.28 369.19,102.78 370.14,102.29 371.09,101.81 372.04,101.35 372.99,100.90 373.94,100.46 374.89,100.04 375.84,99.63 376.79,99.23 377.74,98.84 378.69,98.47 379.64,98.10 380.59,97.75 381.54,97.40 382.49,97.07 383.44,96.74 384.39,96.43 385.34,96.12 386.29,95.82 387.24,95.54 388.19,95.26 389.14,94.98 390.09,94.72 391.04,94.46 391.99,94.21 392.94,93.97 393.89,93.74 394.84,93.51 395.79,93.29 396.74,93.07 397.69,92.87 398.64,92.66 399.59,92.47 400.54,92.28 401.49,92.09 402.44,91.91 403.39,91.74 404.34,91.57 405.29,91.40 406.24,91.24 407.19,91.09 408.14,90.94 409.09,90.79 410.04,90.65 410.99,90.51 411.94,90.38 412.89,90.24 413.84,90.12 414.79,90.00 415.74,89.88 416.69,89.76 417.64,89.65 418.59,89.54 419.54,89.43 420.49,89.33 421.44,89.23 422.39,89.13 423.34,89.04 424.29,88.95 425.24,88.86 426.19,88.77 427.14,88.69 428.09,88.61 429.04,88.53 429.99,88.45 430.94,88.38" fill="none" stroke="#b8102c" stroke-width="1.2" stroke-linejoin="round"/>
<polyline points="315.80,171.40 316.76,166.90 317.72,162.64 318.68,158.61 319.64,154.78 320.60,151.16 321.56,147.72 322.52,144.47 323.48,141.39 324.44,138.47 325.39,135.71 326.35,133.09 327.31,130.61 328.27,128.25 329.23,126.03 330.19,123.92 331.15,121.92 332.11,120.02 333.07,118.23 334.03,116.53 334.99,114.92 335.95,113.39 336.91,111.94 337.87,110.57 338.83,109.28 339.79,108.05 340.75,106.88 341.71,105.78 342.67,104.73 343.63,103.74 344.59,102.80 345.54,101.91 346.50,101.07 347.46,100.27 348.42,99.52 349.38,98.80 350.34,98.12 351.30,97.48 352.26,96.87 353.22,96.29 354.18,95.75 355.14,95.23 356.10,94.74 357.06,94.27 358.02,93.83 358.98,93.42 359.94,93.02 360.90,92.65 361.86,92.29 362.82,91.95 363.77,91.64 364.73,91.33 365.69,91.05 366.65,90.78 367.61,90.52 368.57,90.28 369.53,90.05 370.49,89.83 371.45,89.62 372.41,89.43 373.37,89.24 374.33,89.07 375.29,88.90 376.25,88.74 377.21,88.59 378.17,88.45 379.13,88.32 380.09,88.19 381.05,88.07 382.01,87.95 382.97,87.85 383.92,87.74 384.88,87.65 385.84,87.56 386.80,87.47 387.76,87.39 388.72,87.31 389.68,87.23 390.64,87.16 391.60,87.10 392.56,87.03 393.52,86.97 394.48,86.92 395.44,86.86 396.40,86.81 397.36,86.77 398.32,86.72 399.28,86.68 400.24,86.64 401.20,86.60 402.16,86.56 403.11,86.53 404.07,86.49 405.03,86.46 405.99,86.43 406.95,86.40 407.91,86.38 408.87,86.35 409.83,86.33 410.79,86.31 411.75,86.28 412.71,86.26 413.67,86.25 414.63,86.23 415.59,86.21 416.55,86.19 417.51,86.18 418.47,86.16 419.43,86.15 420.39,86.14 421.35,86.12 422.30,86.11 423.26,86.10 424.22,86.09 425.18,86.08 426.14,86.07 427.10,86.06 428.06,86.05 429.02,86.05 429.98,86.04 430.94,86.03" fill="none" stroke="#52267f" stroke-width="1.1" stroke-linejoin="round"/>
<polyline points="315.80,171.40 316.76,163.38 317.72,156.12 318.68,149.53 319.64,143.56 320.60,138.16 321.56,133.25 322.52,128.81 323.48,124.79 324.44,121.14 325.39,117.84 326.35,114.84 327.31,112.13 328.27,109.67 329.23,107.44 330.19,105.42 331.15,103.59 332.11,101.93 333.07,100.43 334.03,99.06 334.99,97.83 335.95,96.71 336.91,95.70 337.87,94.78 338.83,93.95 339.79,93.19 340.75,92.51 341.71,91.89 342.67,91.33 343.63,90.82 344.59,90.36 345.54,89.94 346.50,89.56 347.46,89.22 348.42,88.91 349.38,88.62 350.34,88.37 351.30,88.14 352.26,87.93 353.22,87.74 354.18,87.56 355.14,87.41 356.10,87.27 357.06,87.14 358.02,87.02 358.98,86.92 359.94,86.82 360.90,86.74 361.86,86.66 362.82,86.59 363.77,86.52 364.73,86.46 365.69,86.41 366.65,86.36 367.61,86.32 368.57,86.28 369.53,86.24 370.49,86.21 371.45,86.18 372.41,86.16 373.37,86.13 374.33,86.11 375.29,86.09 376.25,86.07 377.21,86.06 378.17,86.04 379.13,86.03 380.09,86.02 381.05,86.01 382.01,86.00 382.97,85.99 383.92,85.98 384.88,85.97 385.84,85.96 386.80,85.96 387.76,85.95 388.72,85.95 389.68,85.94 390.64,85.94 391.60,85.94 392.56,85.93 393.52,85.93 394.48,85.93 395.44,85.92 396.40,85.92 397.36,85.92 398.32,85.92 399.28,85.92 400.24,85.91 401.20,85.91 402.16,85.91 403.11,85.91 404.07,85.91 405.03,85.91 405.99,85.91 406.95,85.91 407.91,85.91 408.87,85.91 409.83,85.91 410.79,85.90 411.75,85.90 412.71,85.90 413.67,85.90 414.63,85.90 415.59,85.90 416.55,85.90 417.51,85.90 418.47,85.90 419.43,85.90 420.39,85.90 421.35,85.90 422.30,85.90 423.26,85.90 424.22,85.90 425.18,85.90 426.14,85.90 427.10,85.90 428.06,85.90 429.02,85.90 429.98,85.90 430.94,85.90" fill="none" stroke="#23624a" stroke-width="1.0" stroke-linejoin="round"/>
<polyline points="315.80,171.40 316.76,162.80 317.72,155.06 318.68,148.10 319.64,141.84 320.60,136.21 321.56,131.15 322.52,126.60 323.48,122.50 324.44,118.82 325.39,115.51 326.35,112.53 327.31,109.85 328.27,107.44 329.23,105.27 330.19,103.32 331.15,101.57 332.11,99.99 333.07,98.57 334.03,97.30 334.99,96.15 335.95,95.12 336.91,94.19 337.87,93.36 338.83,92.61 339.79,91.93 340.75,91.33 341.71,90.78 342.67,90.29 343.63,89.85 344.59,89.45 345.54,89.09 346.50,88.77 347.46,88.48 348.42,88.22 349.38,87.99 350.34,87.78 351.30,87.59 352.26,87.42 353.22,87.27 354.18,87.13 355.14,87.01 356.10,86.89 357.06,86.79 358.02,86.70 358.98,86.62 359.94,86.55 360.90,86.49 361.86,86.43 362.82,86.37 363.77,86.33 364.73,86.28 365.69,86.24 366.65,86.21 367.61,86.18 368.57,86.15 369.53,86.13 370.49,86.10 371.45,86.08 372.41,86.06 373.37,86.05 374.33,86.03 375.29,86.02 376.25,86.01 377.21,86.00 378.17,85.99 379.13,85.98 380.09,85.97 381.05,85.96 382.01,85.96 382.97,85.95 383.92,85.95 384.88,85.94 385.84,85.94 386.80,85.93 387.76,85.93 388.72,85.93 389.68,85.92 390.64,85.92 391.60,85.92 392.56,85.92 393.52,85.92 394.48,85.91 395.44,85.91 396.40,85.91 397.36,85.91 398.32,85.91 399.28,85.91 400.24,85.91 401.20,85.91 402.16,85.91 403.11,85.91 404.07,85.90 405.03,85.90 405.99,85.90 406.95,85.90 407.91,85.90 408.87,85.90 409.83,85.90 410.79,85.90 411.75,85.90 412.71,85.90 413.67,85.90 414.63,85.90 415.59,85.90 416.55,85.90 417.51,85.90 418.47,85.90 419.43,85.90 420.39,85.90 421.35,85.90 422.30,85.90 423.26,85.90 424.22,85.90 425.18,85.90 426.14,85.90 427.10,85.90 428.06,85.90 429.02,85.90 429.98,85.90 430.94,85.90" fill="none" stroke="#2d5d78" stroke-width="0.9" stroke-linejoin="round"/>
<polyline points="315.80,171.40 316.76,162.10 317.72,153.81 318.68,146.43 319.64,139.84 320.60,133.98 321.56,128.75 322.52,124.09 323.48,119.94 324.44,116.23 325.39,112.93 326.35,109.99 327.31,107.37 328.27,105.04 329.23,102.96 330.19,101.10 331.15,99.45 332.11,97.97 333.07,96.66 334.03,95.49 334.99,94.45 335.95,93.52 336.91,92.69 337.87,91.95 338.83,91.29 339.79,90.71 340.75,90.18 341.71,89.72 342.67,89.30 343.63,88.93 344.59,88.60 345.54,88.31 346.50,88.05 347.46,87.81 348.42,87.61 349.38,87.42 350.34,87.25 351.30,87.11 352.26,86.98 353.22,86.86 354.18,86.75 355.14,86.66 356.10,86.58 357.06,86.51 358.02,86.44 358.98,86.38 359.94,86.33 360.90,86.28 361.86,86.24 362.82,86.20 363.77,86.17 364.73,86.14 365.69,86.11 366.65,86.09 367.61,86.07 368.57,86.05 369.53,86.04 370.49,86.02 371.45,86.01 372.41,86.00 373.37,85.99 374.33,85.98 375.29,85.97 376.25,85.96 377.21,85.95 378.17,85.95 379.13,85.94 380.09,85.94 381.05,85.93 382.01,85.93 382.97,85.93 383.92,85.92 384.88,85.92 385.84,85.92 386.80,85.92 387.76,85.92 388.72,85.91 389.68,85.91 390.64,85.91 391.60,85.91 392.56,85.91 393.52,85.91 394.48,85.91 395.44,85.91 396.40,85.91 397.36,85.90 398.32,85.90 399.28,85.90 400.24,85.90 401.20,85.90 402.16,85.90 403.11,85.90 404.07,85.90 405.03,85.90 405.99,85.90 406.95,85.90 407.91,85.90 408.87,85.90 409.83,85.90 410.79,85.90 411.75,85.90 412.71,85.90 413.67,85.90 414.63,85.90 415.59,85.90 416.55,85.90 417.51,85.90 418.47,85.90 419.43,85.90 420.39,85.90 421.35,85.90 422.30,85.90 423.26,85.90 424.22,85.90 425.18,85.90 426.14,85.90 427.10,85.90 428.06,85.90 429.02,85.90 429.98,85.90 430.94,85.90" fill="none" stroke="#26438a" stroke-width="1.0" stroke-linejoin="round"/>
<path d="M314.46,170.06 L317.14,172.74 M314.46,172.74 L317.14,170.06" stroke="#62aee8" stroke-width="0.7" fill="none"/>
<path d="M323.96,170.06 L326.64,172.74 M323.96,172.74 L326.64,170.06" stroke="#62aee8" stroke-width="0.7" fill="none"/>
<path d="M325.86,170.06 L328.54,172.74 M325.86,172.74 L328.54,170.06" stroke="#62aee8" stroke-width="0.7" fill="none"/>
<path d="M333.46,170.06 L336.14,172.74 M333.46,172.74 L336.14,170.06" stroke="#62aee8" stroke-width="0.7" fill="none"/>
<path d="M335.36,170.06 L338.04,172.74 M335.36,172.74 L338.04,170.06" stroke="#62aee8" stroke-width="0.7" fill="none"/>
<path d="M352.46,170.06 L355.14,172.74 M352.46,172.74 L355.14,170.06" stroke="#62aee8" stroke-width="0.7" fill="none"/>
<path d="M371.46,170.06 L374.14,172.74 M371.46,172.74 L374.14,170.06" stroke="#62aee8" stroke-width="0.7" fill="none"/>
<path d="M373.36,170.06 L376.04,172.74 M373.36,172.74 L376.04,170.06" stroke="#62aee8" stroke-width="0.7" fill="none"/>
<path d="M429.60,170.06 L432.28,172.74 M429.60,172.74 L432.28,170.06" stroke="#62aee8" stroke-width="0.7" fill="none"/>
<path d="M325.30,163.10 L326.76,165.68 L323.84,165.68 Z" fill="#66b93a"/>
<path d="M334.80,154.13 L336.26,156.70 L333.34,156.70 Z" fill="#66b93a"/>
<path d="M353.80,98.55 L355.26,101.13 L352.34,101.13 Z" fill="#66b93a"/>
<rect x="323.63" y="164.00" width="3.3488" height="2.8336" fill="#b8102c"/>
<rect x="333.13" y="137.49" width="3.3488" height="2.8336" fill="#b8102c"/>
<rect x="352.13" y="104.15" width="3.3488" height="2.8336" fill="#b8102c"/>
<rect x="371.13" y="94.23" width="3.3488" height="2.8336" fill="#b8102c"/>
<rect x="433.07" y="88.33" width="3.3488" height="2.8336" fill="#b8102c"/>
<path d="M334.80,95.91 L336.26,93.33 L333.34,93.33 Z" fill="#52267f"/>
<circle cx="325.30" cy="130.36" r="1.4000000000000001" fill="#23624a"/>
<circle cx="353.80" cy="85.90" r="1.4000000000000001" fill="#23624a"/>
<circle cx="372.80" cy="85.90" r="1.4000000000000001" fill="#23624a"/>
<circle cx="325.30" cy="121.81" r="1.61" fill="#eba94a"/>
<circle cx="334.80" cy="85.90" r="1.61" fill="#eba94a"/>
<circle cx="353.80" cy="85.90" r="1.61" fill="#eba94a"/>
<circle cx="372.80" cy="85.90" r="1.61" fill="#eba94a"/>
<circle cx="430.94" cy="85.90" r="1.61" fill="#eba94a"/>
<circle cx="325.30" cy="121.81" r="0.7000000000000001" fill="#f6dcae"/>
<circle cx="334.80" cy="85.90" r="0.7700000000000001" fill="#4a5070"/>
<circle cx="353.80" cy="85.90" r="0.7700000000000001" fill="#4a5070"/>
<circle cx="372.80" cy="85.90" r="0.7700000000000001" fill="#4a5070"/>
<circle cx="430.94" cy="85.90" r="0.7700000000000001" fill="#4a5070"/>
<line x1="446.2" x2="455.4" y1="153.60" y2="153.60" stroke="#23624a" stroke-width="1.25"/>
<circle cx="450.80" cy="153.60" r="2.45" fill="#23624a"/>
<text x="459" y="156.4" font-size="7.9" fill="#000" text-anchor="start" >WT</text>
<line x1="446.2" x2="455.4" y1="164.23" y2="164.23" stroke="#b8102c" stroke-width="1.25"/>
<rect x="448.25" y="162.07" width="5.096000000000001" height="4.312000000000001" fill="#b8102c"/>
<text x="459" y="167.03" font-size="7.9" fill="#000" text-anchor="start" >L43S</text>
<line x1="446.2" x2="455.4" y1="174.86" y2="174.86" stroke="#66b93a" stroke-width="1.25"/>
<path d="M450.80,172.31 L453.35,176.82 L448.25,176.82 Z" fill="#66b93a"/>
<text x="459" y="177.66" font-size="7.9" fill="#000" text-anchor="start" >F118S</text>
<line x1="446.2" x2="455.4" y1="185.49" y2="185.49" stroke="#52267f" stroke-width="1.25"/>
<path d="M450.80,188.04 L453.35,183.53 L448.25,183.53 Z" fill="#52267f"/>
<text x="459" y="188.29000000000002" font-size="7.9" fill="#000" text-anchor="start" >L329P</text>
<line x1="446.2" x2="455.4" y1="196.12" y2="196.12" stroke="#26438a" stroke-width="1.25"/>
<path d="M448.76,196.12 H452.84 M450.80,194.08 V198.16" stroke="#26438a" stroke-width="0.75" fill="none"/>
<text x="459" y="198.92000000000002" font-size="7.9" fill="#000" text-anchor="start" >L676P</text>
<line x1="446.2" x2="455.4" y1="206.75" y2="206.75" stroke="#62aee8" stroke-width="1.25"/>
<path d="M449.05,205.00 L452.55,208.50 M449.05,208.50 L452.55,205.00" stroke="#62aee8" stroke-width="0.7" fill="none"/>
<text x="459" y="209.55" font-size="7.9" fill="#000" text-anchor="start" >L717*</text>
<line x1="446.2" x2="455.4" y1="217.38" y2="217.38" stroke="#e9941f" stroke-width="1.25"/>
<circle cx="450.80" cy="217.38" r="2.45" fill="#e9941f"/>
<text x="459" y="220.18" font-size="7.9" fill="#000" text-anchor="start" >G750V</text>
<text x="322.8" y="220.4" font-size="11" fill="#111" text-anchor="start" textLength="97.2" lengthAdjust="spacingAndGlyphs">FANCI ubiquitination</text>
<path d="M315.8,226.2 V303.4" stroke="#111" stroke-width="1.3" fill="none"/>
<line x1="312.4" x2="315.8" y1="300.20" y2="300.20" stroke="#111" stroke-width="0.85"/>
<text x="309.2" y="303.3" font-size="8.7" fill="#111" text-anchor="end" >0</text>
<line x1="312.4" x2="315.8" y1="283.68" y2="283.68" stroke="#111" stroke-width="0.85"/>
<text x="309.2" y="286.78000000000003" font-size="8.7" fill="#111" text-anchor="end" >10</text>
<line x1="312.4" x2="315.8" y1="267.16" y2="267.16" stroke="#111" stroke-width="0.85"/>
<text x="309.2" y="270.26" font-size="8.7" fill="#111" text-anchor="end" >20</text>
<line x1="312.4" x2="315.8" y1="250.64" y2="250.64" stroke="#111" stroke-width="0.85"/>
<text x="309.2" y="253.73999999999998" font-size="8.7" fill="#111" text-anchor="end" >30</text>
<line x1="312.4" x2="315.8" y1="234.12" y2="234.12" stroke="#111" stroke-width="0.85"/>
<text x="309.2" y="237.22" font-size="8.7" fill="#111" text-anchor="end" >40</text>
<line x1="315.70" x2="315.70" y1="300.2" y2="302.8" stroke="#111" stroke-width="0.8"/>
<text x="315.7" y="314" font-size="8.7" fill="#111" text-anchor="middle" >0</text>
<line x1="362.45" x2="362.45" y1="300.2" y2="302.8" stroke="#111" stroke-width="0.8"/>
<text x="362.45" y="314" font-size="8.7" fill="#111" text-anchor="middle" >100</text>
<line x1="409.20" x2="409.20" y1="300.2" y2="302.8" stroke="#111" stroke-width="0.8"/>
<text x="409.2" y="314" font-size="8.7" fill="#111" text-anchor="middle" >200</text>
<text x="352" y="328" font-size="10.4" fill="#1a1a1a" textLength="38.8" lengthAdjust="spacingAndGlyphs">Time (min)</text>
<text x="0" y="0" font-size="10.6" fill="#1a1a1a" textLength="81" lengthAdjust="spacingAndGlyphs" transform="translate(294 303) rotate(-90)">% ubiquitinated FANCI</text>
<line x1="316.3" x2="427.90" y1="300.2" y2="300.2" stroke="#62aee8" stroke-width="1.15"/>
<polyline points="321.31,300.20 322.20,299.96 323.09,299.72 323.97,299.48 324.86,299.24 325.75,299.00 326.64,298.76 327.53,298.53 328.42,298.29 329.30,298.05 330.19,297.82 331.08,297.58 331.97,297.35 332.86,297.12 333.75,296.88 334.63,296.65 335.52,296.42 336.41,296.19 337.30,295.95 338.19,295.72 339.07,295.49 339.96,295.26 340.85,295.04 341.74,294.81 342.63,294.58 343.52,294.35 344.40,294.13 345.29,293.90 346.18,293.68 347.07,293.45 347.96,293.23 348.85,293.00 349.73,292.78 350.62,292.56 351.51,292.33 352.40,292.11 353.29,291.89 354.18,291.67 355.06,291.45 355.95,291.23 356.84,291.01 357.73,290.79 358.62,290.58 359.50,290.36 360.39,290.14 361.28,289.92 362.17,289.71 363.06,289.49 363.95,289.28 364.83,289.06 365.72,288.85 366.61,288.64 367.50,288.43 368.39,288.21 369.28,288.00 370.16,287.79 371.05,287.58 371.94,287.37 372.83,287.16 373.72,286.95 374.61,286.74 375.49,286.53 376.38,286.33 377.27,286.12 378.16,285.91 379.05,285.71 379.93,285.50 380.82,285.30 381.71,285.09 382.60,284.89 383.49,284.68 384.38,284.48 385.26,284.28 386.15,284.08 387.04,283.87 387.93,283.67 388.82,283.47 389.71,283.27 390.59,283.07 391.48,282.87 392.37,282.68 393.26,282.48 394.15,282.28 395.03,282.08 395.92,281.89 396.81,281.69 397.70,281.49 398.59,281.30 399.48,281.10 400.36,280.91 401.25,280.71 402.14,280.52 403.03,280.33 403.92,280.14 404.81,279.94 405.69,279.75 406.58,279.56 407.47,279.37 408.36,279.18 409.25,278.99 410.13,278.80 411.02,278.61 411.91,278.42 412.80,278.24 413.69,278.05 414.58,277.86 415.46,277.68 416.35,277.49 417.24,277.30 418.13,277.12 419.02,276.93 419.91,276.75 420.79,276.57 421.68,276.38 422.57,276.20 423.46,276.02 424.35,275.84 425.24,275.65 426.12,275.47 427.01,275.29 427.90,275.11" fill="none" stroke="#66b93a" stroke-width="1.1" stroke-linejoin="round"/>
<polyline points="320.38,300.20 321.27,299.90 322.17,299.60 323.06,299.29 323.96,298.99 324.86,298.70 325.75,298.40 326.65,298.10 327.54,297.80 328.44,297.51 329.34,297.21 330.23,296.92 331.13,296.62 332.02,296.33 332.92,296.04 333.82,295.75 334.71,295.46 335.61,295.17 336.50,294.88 337.40,294.59 338.30,294.30 339.19,294.02 340.09,293.73 340.98,293.45 341.88,293.16 342.78,292.88 343.67,292.60 344.57,292.32 345.46,292.04 346.36,291.76 347.26,291.48 348.15,291.20 349.05,290.92 349.94,290.65 350.84,290.37 351.74,290.09 352.63,289.82 353.53,289.55 354.42,289.27 355.32,289.00 356.22,288.73 357.11,288.46 358.01,288.19 358.90,287.92 359.80,287.65 360.70,287.38 361.59,287.12 362.49,286.85 363.38,286.58 364.28,286.32 365.18,286.05 366.07,285.79 366.97,285.53 367.87,285.27 368.76,285.01 369.66,284.75 370.55,284.49 371.45,284.23 372.35,283.97 373.24,283.71 374.14,283.45 375.03,283.20 375.93,282.94 376.83,282.69 377.72,282.43 378.62,282.18 379.51,281.93 380.41,281.68 381.31,281.42 382.20,281.17 383.10,280.92 383.99,280.68 384.89,280.43 385.79,280.18 386.68,279.93 387.58,279.69 388.47,279.44 389.37,279.20 390.27,278.95 391.16,278.71 392.06,278.46 392.95,278.22 393.85,277.98 394.75,277.74 395.64,277.50 396.54,277.26 397.43,277.02 398.33,276.78 399.23,276.54 400.12,276.31 401.02,276.07 401.91,275.84 402.81,275.60 403.71,275.37 404.60,275.13 405.50,274.90 406.39,274.67 407.29,274.44 408.19,274.20 409.08,273.97 409.98,273.74 410.88,273.52 411.77,273.29 412.67,273.06 413.56,272.83 414.46,272.60 415.36,272.38 416.25,272.15 417.15,271.93 418.04,271.70 418.94,271.48 419.84,271.26 420.73,271.04 421.63,270.81 422.52,270.59 423.42,270.37 424.32,270.15 425.21,269.93 426.11,269.72 427.00,269.50 427.90,269.28" fill="none" stroke="#52267f" stroke-width="1.1" stroke-linejoin="round"/>
<polyline points="322.25,300.20 323.13,299.75 324.01,299.31 324.89,298.86 325.77,298.42 326.65,297.97 327.53,297.53 328.41,297.09 329.29,296.65 330.17,296.21 331.05,295.77 331.93,295.33 332.81,294.90 333.69,294.46 334.57,294.03 335.45,293.59 336.33,293.16 337.21,292.73 338.09,292.30 338.97,291.87 339.85,291.44 340.73,291.01 341.62,290.58 342.50,290.16 343.38,289.73 344.26,289.31 345.14,288.89 346.02,288.47 346.90,288.04 347.78,287.62 348.66,287.20 349.54,286.79 350.42,286.37 351.30,285.95 352.18,285.54 353.06,285.12 353.94,284.71 354.82,284.30 355.70,283.89 356.58,283.48 357.46,283.07 358.34,282.66 359.22,282.25 360.10,281.84 360.99,281.44 361.87,281.03 362.75,280.63 363.63,280.22 364.51,279.82 365.39,279.42 366.27,279.02 367.15,278.62 368.03,278.22 368.91,277.82 369.79,277.42 370.67,277.03 371.55,276.63 372.43,276.24 373.31,275.85 374.19,275.45 375.07,275.06 375.95,274.67 376.83,274.28 377.71,273.89 378.59,273.50 379.47,273.12 380.36,272.73 381.24,272.34 382.12,271.96 383.00,271.58 383.88,271.19 384.76,270.81 385.64,270.43 386.52,270.05 387.40,269.67 388.28,269.29 389.16,268.91 390.04,268.54 390.92,268.16 391.80,267.79 392.68,267.41 393.56,267.04 394.44,266.67 395.32,266.29 396.20,265.92 397.08,265.55 397.96,265.18 398.84,264.81 399.73,264.45 400.61,264.08 401.49,263.71 402.37,263.35 403.25,262.98 404.13,262.62 405.01,262.26 405.89,261.90 406.77,261.54 407.65,261.18 408.53,260.82 409.41,260.46 410.29,260.10 411.17,259.74 412.05,259.39 412.93,259.03 413.81,258.68 414.69,258.32 415.57,257.97 416.45,257.62 417.33,257.27 418.21,256.92 419.10,256.57 419.98,256.22 420.86,255.87 421.74,255.52 422.62,255.17 423.50,254.83 424.38,254.48 425.26,254.14 426.14,253.80 427.02,253.45 427.90,253.11" fill="none" stroke="#26438a" stroke-width="1.1" stroke-linejoin="round"/>
<polyline points="321.31,300.20 322.20,299.69 323.09,299.19 323.97,298.70 324.86,298.22 325.75,297.75 326.64,297.29 327.53,296.84 328.42,296.40 329.30,295.96 330.19,295.54 331.08,295.12 331.97,294.71 332.86,294.31 333.75,293.92 334.63,293.53 335.52,293.16 336.41,292.79 337.30,292.42 338.19,292.07 339.07,291.72 339.96,291.38 340.85,291.04 341.74,290.72 342.63,290.39 343.52,290.08 344.40,289.77 345.29,289.47 346.18,289.17 347.07,288.88 347.96,288.59 348.85,288.31 349.73,288.04 350.62,287.77 351.51,287.51 352.40,287.25 353.29,287.00 354.18,286.75 355.06,286.50 355.95,286.27 356.84,286.03 357.73,285.80 358.62,285.58 359.50,285.36 360.39,285.14 361.28,284.93 362.17,284.72 363.06,284.52 363.95,284.32 364.83,284.12 365.72,283.93 366.61,283.75 367.50,283.56 368.39,283.38 369.28,283.20 370.16,283.03 371.05,282.86 371.94,282.69 372.83,282.53 373.72,282.37 374.61,282.21 375.49,282.06 376.38,281.91 377.27,281.76 378.16,281.62 379.05,281.48 379.93,281.34 380.82,281.20 381.71,281.07 382.60,280.93 383.49,280.81 384.38,280.68 385.26,280.56 386.15,280.44 387.04,280.32 387.93,280.20 388.82,280.09 389.71,279.97 390.59,279.87 391.48,279.76 392.37,279.65 393.26,279.55 394.15,279.45 395.03,279.35 395.92,279.25 396.81,279.16 397.70,279.06 398.59,278.97 399.48,278.88 400.36,278.79 401.25,278.71 402.14,278.62 403.03,278.54 403.92,278.46 404.81,278.38 405.69,278.30 406.58,278.23 407.47,278.15 408.36,278.08 409.25,278.00 410.13,277.93 411.02,277.86 411.91,277.80 412.80,277.73 413.69,277.67 414.58,277.60 415.46,277.54 416.35,277.48 417.24,277.42 418.13,277.36 419.02,277.30 419.91,277.24 420.79,277.19 421.68,277.13 422.57,277.08 423.46,277.03 424.35,276.98 425.24,276.93 426.12,276.88 427.01,276.83 427.90,276.78" fill="none" stroke="#b8102c" stroke-width="1.5" stroke-linejoin="round"/>
<polyline points="315.70,300.20 316.63,298.87 317.57,297.56 318.50,296.29 319.44,295.03 320.38,293.80 321.31,292.59 322.25,291.41 323.18,290.25 324.12,289.11 325.05,288.00 325.99,286.90 326.92,285.83 327.86,284.78 328.79,283.75 329.72,282.74 330.66,281.74 331.59,280.77 332.53,279.82 333.46,278.88 334.40,277.97 335.33,277.07 336.27,276.19 337.20,275.32 338.14,274.47 339.07,273.64 340.01,272.83 340.94,272.03 341.88,271.24 342.81,270.48 343.75,269.72 344.69,268.98 345.62,268.26 346.56,267.55 347.49,266.85 348.43,266.17 349.36,265.50 350.29,264.84 351.23,264.20 352.16,263.56 353.10,262.94 354.03,262.34 354.97,261.74 355.90,261.16 356.84,260.58 357.77,260.02 358.71,259.47 359.64,258.93 360.58,258.40 361.51,257.88 362.45,257.37 363.38,256.87 364.32,256.38 365.25,255.90 366.19,255.43 367.12,254.97 368.06,254.52 369.00,254.07 369.93,253.64 370.87,253.21 371.80,252.79 372.74,252.38 373.67,251.98 374.61,251.59 375.54,251.20 376.48,250.82 377.41,250.45 378.34,250.08 379.28,249.72 380.21,249.37 381.15,249.03 382.08,248.69 383.02,248.36 383.95,248.04 384.89,247.72 385.82,247.41 386.76,247.10 387.69,246.80 388.63,246.51 389.56,246.22 390.50,245.93 391.44,245.66 392.37,245.38 393.31,245.12 394.24,244.86 395.18,244.60 396.11,244.35 397.04,244.10 397.98,243.86 398.91,243.62 399.85,243.39 400.78,243.16 401.72,242.94 402.65,242.72 403.59,242.50 404.52,242.29 405.46,242.09 406.39,241.88 407.33,241.69 408.26,241.49 409.20,241.30 410.13,241.11 411.07,240.93 412.00,240.75 412.94,240.57 413.88,240.40 414.81,240.23 415.75,240.06 416.68,239.90 417.62,239.74 418.55,239.58 419.49,239.43 420.42,239.27 421.36,239.13 422.29,238.98 423.23,238.84 424.16,238.70 425.10,238.56 426.03,238.43 426.96,238.30 427.90,238.17" fill="none" stroke="#e9941f" stroke-width="1.1" stroke-linejoin="round"/>
<polyline points="315.70,300.20 316.63,298.64 317.57,297.11 318.50,295.61 319.44,294.14 320.38,292.71 321.31,291.30 322.25,289.92 323.18,288.58 324.12,287.26 325.05,285.96 325.99,284.70 326.92,283.46 327.86,282.24 328.79,281.05 329.72,279.89 330.66,278.75 331.59,277.63 332.53,276.54 333.46,275.47 334.40,274.42 335.33,273.40 336.27,272.39 337.20,271.41 338.14,270.44 339.07,269.50 340.01,268.57 340.94,267.67 341.88,266.78 342.81,265.92 343.75,265.07 344.69,264.23 345.62,263.42 346.56,262.62 347.49,261.84 348.43,261.08 349.36,260.33 350.29,259.59 351.23,258.88 352.16,258.17 353.10,257.48 354.03,256.81 354.97,256.15 355.90,255.50 356.84,254.87 357.77,254.25 358.71,253.64 359.64,253.05 360.58,252.47 361.51,251.90 362.45,251.34 363.38,250.79 364.32,250.26 365.25,249.73 366.19,249.22 367.12,248.72 368.06,248.22 369.00,247.74 369.93,247.27 370.87,246.81 371.80,246.36 372.74,245.91 373.67,245.48 374.61,245.05 375.54,244.64 376.48,244.23 377.41,243.83 378.34,243.44 379.28,243.06 380.21,242.68 381.15,242.32 382.08,241.96 383.02,241.61 383.95,241.26 384.89,240.92 385.82,240.59 386.76,240.27 387.69,239.95 388.63,239.64 389.56,239.34 390.50,239.04 391.44,238.75 392.37,238.47 393.31,238.19 394.24,237.91 395.18,237.65 396.11,237.38 397.04,237.13 397.98,236.88 398.91,236.63 399.85,236.39 400.78,236.15 401.72,235.92 402.65,235.70 403.59,235.47 404.52,235.26 405.46,235.05 406.39,234.84 407.33,234.63 408.26,234.43 409.20,234.24 410.13,234.05 411.07,233.86 412.00,233.68 412.94,233.50 413.88,233.32 414.81,233.15 415.75,232.98 416.68,232.82 417.62,232.65 418.55,232.50 419.49,232.34 420.42,232.19 421.36,232.04 422.29,231.89 423.23,231.75 424.16,231.61 425.10,231.48 426.03,231.34 426.96,231.21 427.90,231.08" fill="none" stroke="#23624a" stroke-width="1.1" stroke-linejoin="round"/>
<path d="M314.36,298.86 L317.04,301.54 M314.36,301.54 L317.04,298.86" stroke="#62aee8" stroke-width="0.7" fill="none"/>
<path d="M316.69,298.86 L319.38,301.54 M316.69,301.54 L319.38,298.86" stroke="#62aee8" stroke-width="0.7" fill="none"/>
<path d="M319.03,298.86 L321.72,301.54 M319.03,301.54 L321.72,298.86" stroke="#62aee8" stroke-width="0.7" fill="none"/>
<path d="M323.71,298.86 L326.39,301.54 M323.71,301.54 L326.39,298.86" stroke="#62aee8" stroke-width="0.7" fill="none"/>
<path d="M328.38,298.86 L331.07,301.54 M328.38,301.54 L331.07,298.86" stroke="#62aee8" stroke-width="0.7" fill="none"/>
<path d="M342.41,298.86 L345.09,301.54 M342.41,301.54 L345.09,298.86" stroke="#62aee8" stroke-width="0.7" fill="none"/>
<path d="M356.43,298.86 L359.12,301.54 M356.43,301.54 L359.12,298.86" stroke="#62aee8" stroke-width="0.7" fill="none"/>
<path d="M358.30,298.86 L360.99,301.54 M358.30,301.54 L360.99,298.86" stroke="#62aee8" stroke-width="0.7" fill="none"/>
<path d="M370.46,298.86 L373.14,301.54 M370.46,301.54 L373.14,298.86" stroke="#62aee8" stroke-width="0.7" fill="none"/>
<path d="M372.33,298.86 L375.01,301.54 M372.33,301.54 L375.01,298.86" stroke="#62aee8" stroke-width="0.7" fill="none"/>
<path d="M426.56,298.86 L429.24,301.54 M426.56,301.54 L429.24,298.86" stroke="#62aee8" stroke-width="0.7" fill="none"/>
<path d="M343.75,297.09 L345.21,299.67 L342.29,299.67 Z" fill="#66b93a"/>
<path d="M357.77,288.83 L359.23,291.41 L356.32,291.41 Z" fill="#66b93a"/>
<path d="M371.80,285.53 L373.26,288.10 L370.34,288.10 Z" fill="#66b93a"/>
<path d="M427.90,273.63 L429.36,276.21 L426.44,276.21 Z" fill="#66b93a"/>
<path d="M343.75,294.22 L345.21,291.65 L342.29,291.65 Z" fill="#52267f"/>
<path d="M371.80,286.79 L373.26,284.21 L370.34,284.21 Z" fill="#52267f"/>
<path d="M427.90,269.28 L429.36,266.70 L426.44,266.70 Z" fill="#52267f"/>
<path d="M342.18,291.94 H345.32 M343.75,290.37 V293.51" stroke="#26438a" stroke-width="0.75" fill="none"/>
<path d="M370.23,278.72 H373.37 M371.80,277.16 V280.29" stroke="#26438a" stroke-width="0.75" fill="none"/>
<path d="M426.33,249.65 H429.47 M427.90,248.08 V251.22" stroke="#26438a" stroke-width="0.75" fill="none"/>
<circle cx="320.38" cy="295.24" r="1.61" fill="#23624a"/>
<circle cx="329.72" cy="276.25" r="1.61" fill="#23624a"/>
<circle cx="343.75" cy="269.31" r="1.61" fill="#23624a"/>
<circle cx="357.77" cy="251.47" r="1.61" fill="#23624a"/>
<circle cx="371.80" cy="244.69" r="1.61" fill="#23624a"/>
<circle cx="427.90" cy="230.82" r="1.61" fill="#23624a"/>
<circle cx="320.38" cy="296.07" r="1.6744" fill="none" stroke="#e9941f" stroke-width="0.7"/>
<circle cx="325.05" cy="289.96" r="1.6744" fill="none" stroke="#e9941f" stroke-width="0.7"/>
<circle cx="329.72" cy="279.55" r="1.6744" fill="none" stroke="#e9941f" stroke-width="0.7"/>
<circle cx="343.75" cy="274.59" r="1.6744" fill="none" stroke="#e9941f" stroke-width="0.7"/>
<circle cx="357.77" cy="263.03" r="1.6744" fill="none" stroke="#e9941f" stroke-width="0.7"/>
<circle cx="371.80" cy="248.99" r="1.6744" fill="none" stroke="#e9941f" stroke-width="0.7"/>
<circle cx="427.90" cy="238.08" r="1.6744" fill="none" stroke="#e9941f" stroke-width="0.7"/>
<rect x="313.95" y="298.72" width="3.4944" height="2.9568000000000003" fill="#b8102c"/>
<rect x="315.36" y="298.72" width="3.4944" height="2.9568000000000003" fill="#b8102c"/>
<rect x="316.76" y="298.72" width="3.4944" height="2.9568000000000003" fill="#b8102c"/>
<rect x="318.63" y="298.72" width="3.4944" height="2.9568000000000003" fill="#b8102c"/>
<rect x="323.30" y="298.23" width="3.4944" height="2.9568000000000003" fill="#b8102c"/>
<rect x="327.98" y="297.90" width="3.4944" height="2.9568000000000003" fill="#b8102c"/>
<rect x="342.00" y="287.65" width="3.4944" height="2.9568000000000003" fill="#b8102c"/>
<rect x="356.03" y="282.20" width="3.4944" height="2.9568000000000003" fill="#b8102c"/>
<rect x="370.05" y="280.55" width="3.4944" height="2.9568000000000003" fill="#b8102c"/>
<rect x="426.15" y="275.59" width="3.4944" height="2.9568000000000003" fill="#b8102c"/>
<path d="M0,0 H520 V379 H0 Z M1.1,1.2 V377.6 H518.9 V1.2 Z" fill="#000" fill-rule="evenodd"/>
</svg></body></html>
